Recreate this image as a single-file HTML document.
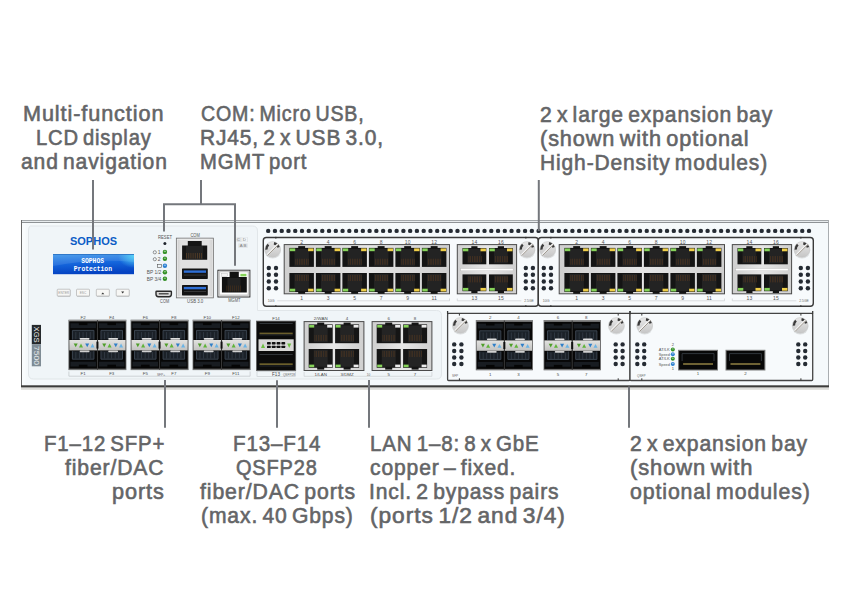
<!DOCTYPE html>
<html><head><meta charset="utf-8"><style>
html,body{margin:0;padding:0;background:#fff;}
#p{position:relative;width:850px;height:610px;overflow:hidden;background:#fff;}
svg{position:absolute;left:0;top:0;}
.t{position:absolute;font-family:"Liberation Sans",sans-serif;font-weight:normal;font-size:21.6px;line-height:24px;color:#646567;-webkit-text-stroke:0.6px #646567;letter-spacing:0.9px;word-spacing:-2.5px;white-space:nowrap;transform-origin:0 0;}
</style></head><body><div id="p">
<svg width="850" height="610" viewBox="0 0 850 610">
<defs>
<linearGradient id="silver" x1="0" y1="0" x2="1" y2="0">
<stop offset="0" stop-color="#cfcfcf"/><stop offset="0.5" stop-color="#e6e6e6"/><stop offset="1" stop-color="#cfcfcf"/>
</linearGradient>
<linearGradient id="silver2" x1="0" y1="0" x2="1" y2="0">
<stop offset="0" stop-color="#c9c9c9"/><stop offset="0.12" stop-color="#e2e2e2"/><stop offset="0.88" stop-color="#e2e2e2"/><stop offset="1" stop-color="#c9c9c9"/>
</linearGradient>
<linearGradient id="screwg" x1="0" y1="0" x2="0" y2="1">
<stop offset="0" stop-color="#e8e8e8"/><stop offset="1" stop-color="#c6c6c6"/>
</linearGradient>
<linearGradient id="band" x1="0" y1="0" x2="0" y2="1">
<stop offset="0" stop-color="#e2e2e0"/><stop offset="0.5" stop-color="#d2d2d0"/><stop offset="1" stop-color="#c2c2c0"/>
</linearGradient>
<radialGradient id="lcdglow">
<stop offset="0" stop-color="#5ad8f8" stop-opacity="0.9"/><stop offset="1" stop-color="#5ad8f8" stop-opacity="0"/>
</radialGradient>
<linearGradient id="lcd" x1="0" y1="0" x2="0.15" y2="1">
<stop offset="0" stop-color="#3a94ea"/><stop offset="0.5" stop-color="#1566dc"/><stop offset="1" stop-color="#0442c2"/>
</linearGradient>
</defs>
<rect x="21" y="220" width="808" height="166" fill="#f5f9fb"/>
<rect x="21" y="220" width="808" height="1" fill="#a3a7aa"/>
<rect x="21" y="221" width="808" height="1" fill="#e8ecee"/>
<rect x="21" y="222" width="808" height="1" fill="#8e9295"/>
<rect x="21" y="220" width="1" height="166" fill="#6a6a6a"/>
<rect x="828" y="220" width="1" height="166" fill="#a9adb0"/>
<rect x="21" y="385.3" width="808" height="2" fill="#3c3c3a"/>
<rect x="21" y="387.3" width="808" height="1" fill="#9a9a96"/>
<rect x="21" y="388.3" width="808" height="1.5" fill="#dcdcd8"/>
<path d="M30.5 226 H252.5 Q257.5 226 257.5 231 V310.5 H436.5 Q441.5 310.5 441.5 315.5 V374 Q441.5 379 436.5 379 H33.5 Q28.5 379 28.5 374 V231 Q28.5 226 30.5 226 Z" fill="#f0f5f8" stroke="#e1e6e9" stroke-width="1"/>
<rect x="22" y="223" width="3.5" height="162" fill="#f9fcfd"/>
<circle cx="268.20" cy="230.9" r="2.2" fill="#252b33"/>
<circle cx="274.96" cy="230.9" r="2.2" fill="#252b33"/>
<circle cx="281.72" cy="230.9" r="2.2" fill="#252b33"/>
<circle cx="288.48" cy="230.9" r="2.2" fill="#252b33"/>
<circle cx="295.24" cy="230.9" r="2.2" fill="#252b33"/>
<circle cx="302.00" cy="230.9" r="2.2" fill="#252b33"/>
<circle cx="308.76" cy="230.9" r="2.2" fill="#252b33"/>
<circle cx="315.52" cy="230.9" r="2.2" fill="#252b33"/>
<circle cx="322.28" cy="230.9" r="2.2" fill="#252b33"/>
<circle cx="329.04" cy="230.9" r="2.2" fill="#252b33"/>
<circle cx="335.80" cy="230.9" r="2.2" fill="#252b33"/>
<circle cx="342.56" cy="230.9" r="2.2" fill="#252b33"/>
<circle cx="349.32" cy="230.9" r="2.2" fill="#252b33"/>
<circle cx="356.08" cy="230.9" r="2.2" fill="#252b33"/>
<circle cx="362.84" cy="230.9" r="2.2" fill="#252b33"/>
<circle cx="369.60" cy="230.9" r="2.2" fill="#252b33"/>
<circle cx="376.36" cy="230.9" r="2.2" fill="#252b33"/>
<circle cx="383.12" cy="230.9" r="2.2" fill="#252b33"/>
<circle cx="389.88" cy="230.9" r="2.2" fill="#252b33"/>
<circle cx="396.64" cy="230.9" r="2.2" fill="#252b33"/>
<circle cx="403.40" cy="230.9" r="2.2" fill="#252b33"/>
<circle cx="410.16" cy="230.9" r="2.2" fill="#252b33"/>
<circle cx="416.92" cy="230.9" r="2.2" fill="#252b33"/>
<circle cx="423.68" cy="230.9" r="2.2" fill="#252b33"/>
<circle cx="430.44" cy="230.9" r="2.2" fill="#252b33"/>
<circle cx="437.20" cy="230.9" r="2.2" fill="#252b33"/>
<circle cx="443.96" cy="230.9" r="2.2" fill="#252b33"/>
<circle cx="450.72" cy="230.9" r="2.2" fill="#252b33"/>
<circle cx="457.48" cy="230.9" r="2.2" fill="#252b33"/>
<circle cx="464.24" cy="230.9" r="2.2" fill="#252b33"/>
<circle cx="471.00" cy="230.9" r="2.2" fill="#252b33"/>
<circle cx="477.76" cy="230.9" r="2.2" fill="#252b33"/>
<circle cx="484.52" cy="230.9" r="2.2" fill="#252b33"/>
<circle cx="491.28" cy="230.9" r="2.2" fill="#252b33"/>
<circle cx="498.04" cy="230.9" r="2.2" fill="#252b33"/>
<circle cx="504.80" cy="230.9" r="2.2" fill="#252b33"/>
<circle cx="511.56" cy="230.9" r="2.2" fill="#252b33"/>
<circle cx="518.32" cy="230.9" r="2.2" fill="#252b33"/>
<circle cx="525.08" cy="230.9" r="2.2" fill="#252b33"/>
<circle cx="531.84" cy="230.9" r="2.2" fill="#252b33"/>
<circle cx="538.60" cy="230.9" r="2.2" fill="#252b33"/>
<circle cx="545.36" cy="230.9" r="2.2" fill="#252b33"/>
<circle cx="552.12" cy="230.9" r="2.2" fill="#252b33"/>
<circle cx="558.88" cy="230.9" r="2.2" fill="#252b33"/>
<circle cx="565.64" cy="230.9" r="2.2" fill="#252b33"/>
<circle cx="572.40" cy="230.9" r="2.2" fill="#252b33"/>
<circle cx="579.16" cy="230.9" r="2.2" fill="#252b33"/>
<circle cx="585.92" cy="230.9" r="2.2" fill="#252b33"/>
<circle cx="592.68" cy="230.9" r="2.2" fill="#252b33"/>
<circle cx="599.44" cy="230.9" r="2.2" fill="#252b33"/>
<circle cx="606.20" cy="230.9" r="2.2" fill="#252b33"/>
<circle cx="612.96" cy="230.9" r="2.2" fill="#252b33"/>
<circle cx="619.72" cy="230.9" r="2.2" fill="#252b33"/>
<circle cx="626.48" cy="230.9" r="2.2" fill="#252b33"/>
<circle cx="633.24" cy="230.9" r="2.2" fill="#252b33"/>
<circle cx="640.00" cy="230.9" r="2.2" fill="#252b33"/>
<circle cx="646.76" cy="230.9" r="2.2" fill="#252b33"/>
<circle cx="653.52" cy="230.9" r="2.2" fill="#252b33"/>
<circle cx="660.28" cy="230.9" r="2.2" fill="#252b33"/>
<circle cx="667.04" cy="230.9" r="2.2" fill="#252b33"/>
<circle cx="673.80" cy="230.9" r="2.2" fill="#252b33"/>
<circle cx="680.56" cy="230.9" r="2.2" fill="#252b33"/>
<circle cx="687.32" cy="230.9" r="2.2" fill="#252b33"/>
<circle cx="694.08" cy="230.9" r="2.2" fill="#252b33"/>
<circle cx="700.84" cy="230.9" r="2.2" fill="#252b33"/>
<circle cx="707.60" cy="230.9" r="2.2" fill="#252b33"/>
<circle cx="714.36" cy="230.9" r="2.2" fill="#252b33"/>
<circle cx="721.12" cy="230.9" r="2.2" fill="#252b33"/>
<circle cx="727.88" cy="230.9" r="2.2" fill="#252b33"/>
<circle cx="734.64" cy="230.9" r="2.2" fill="#252b33"/>
<circle cx="741.40" cy="230.9" r="2.2" fill="#252b33"/>
<circle cx="748.16" cy="230.9" r="2.2" fill="#252b33"/>
<circle cx="754.92" cy="230.9" r="2.2" fill="#252b33"/>
<circle cx="761.68" cy="230.9" r="2.2" fill="#252b33"/>
<circle cx="768.44" cy="230.9" r="2.2" fill="#252b33"/>
<circle cx="775.20" cy="230.9" r="2.2" fill="#252b33"/>
<circle cx="781.96" cy="230.9" r="2.2" fill="#252b33"/>
<circle cx="788.72" cy="230.9" r="2.2" fill="#252b33"/>
<circle cx="795.48" cy="230.9" r="2.2" fill="#252b33"/>
<circle cx="802.24" cy="230.9" r="2.2" fill="#252b33"/>
<circle cx="809.00" cy="230.9" r="2.2" fill="#252b33"/>
<rect x="263.3" y="237.5" width="275.0" height="68.7" rx="3" fill="#f7fafc" stroke="#3a3a3a" stroke-width="1.4"/>
<circle cx="272.65000000000003" cy="250.3" r="8.3" fill="#d2d4d6" opacity="0.7"/>
<circle cx="272.65000000000003" cy="249.4" r="7.8" fill="url(#screwg)" stroke="#c4c4c4" stroke-width="0.5"/>
<path d="M268.43 244.72 A6.3 6.3 0 0 0 266.35 249.62" fill="none" stroke="#3a3a3a" stroke-width="2.4"/>
<path d="M278.64 247.45 A6.3 6.3 0 0 0 273.96 243.24" fill="none" stroke="#3a3a3a" stroke-width="2.4"/>
<line x1="267.25000000000006" y1="254.8" x2="278.05" y2="244.0" stroke="#f4f4f4" stroke-width="1.8"/>
<line x1="267.45000000000005" y1="255.5" x2="278.55" y2="244.4" stroke="#867e72" stroke-width="0.8"/>
<circle cx="268.8" cy="268" r="2.2" fill="#252b33"/>
<circle cx="276.0" cy="268" r="2.2" fill="#252b33"/>
<circle cx="268.8" cy="274.8" r="2.2" fill="#252b33"/>
<circle cx="276.0" cy="274.8" r="2.2" fill="#252b33"/>
<circle cx="268.8" cy="281.5" r="2.2" fill="#252b33"/>
<circle cx="276.0" cy="281.5" r="2.2" fill="#252b33"/>
<circle cx="268.8" cy="288.3" r="2.2" fill="#252b33"/>
<circle cx="276.0" cy="288.3" r="2.2" fill="#252b33"/>
<circle cx="527.0" cy="250.3" r="8.3" fill="#d2d4d6" opacity="0.7"/>
<circle cx="527.0" cy="249.4" r="7.8" fill="url(#screwg)" stroke="#c4c4c4" stroke-width="0.5"/>
<path d="M522.78 244.72 A6.3 6.3 0 0 0 520.70 249.62" fill="none" stroke="#3a3a3a" stroke-width="2.4"/>
<path d="M532.99 247.45 A6.3 6.3 0 0 0 528.31 243.24" fill="none" stroke="#3a3a3a" stroke-width="2.4"/>
<line x1="521.6" y1="254.8" x2="532.4" y2="244.0" stroke="#f4f4f4" stroke-width="1.8"/>
<line x1="521.8" y1="255.5" x2="532.9" y2="244.4" stroke="#867e72" stroke-width="0.8"/>
<circle cx="525.8" cy="268" r="2.2" fill="#252b33"/>
<circle cx="532.9" cy="268" r="2.2" fill="#252b33"/>
<circle cx="525.8" cy="274.8" r="2.2" fill="#252b33"/>
<circle cx="532.9" cy="274.8" r="2.2" fill="#252b33"/>
<circle cx="525.8" cy="281.5" r="2.2" fill="#252b33"/>
<circle cx="532.9" cy="281.5" r="2.2" fill="#252b33"/>
<circle cx="525.8" cy="288.3" r="2.2" fill="#252b33"/>
<circle cx="532.9" cy="288.3" r="2.2" fill="#252b33"/>
<rect x="284.2" y="244.6" width="165.3" height="49.2" fill="url(#silver)" stroke="#4a4a4a" stroke-width="1"/>
<rect x="289.4" y="247.9" width="24.5" height="19" fill="#141414"/>
<rect x="298.2" y="246.1" width="6.899999999999999" height="3" fill="#141414"/>
<rect x="294.4" y="248.9" width="14.5" height="17" fill="#232323"/>
<rect x="295.60" y="258.70" width="0.55" height="6" fill="#6a4220" opacity="0.75"/>
<rect x="297.35" y="258.70" width="0.55" height="6" fill="#6a4220" opacity="0.75"/>
<rect x="299.10" y="258.70" width="0.55" height="6" fill="#6a4220" opacity="0.75"/>
<rect x="300.85" y="258.70" width="0.55" height="6" fill="#6a4220" opacity="0.75"/>
<rect x="302.60" y="258.70" width="0.55" height="6" fill="#6a4220" opacity="0.75"/>
<rect x="304.35" y="258.70" width="0.55" height="6" fill="#6a4220" opacity="0.75"/>
<rect x="306.10" y="258.70" width="0.55" height="6" fill="#6a4220" opacity="0.75"/>
<rect x="307.85" y="258.70" width="0.55" height="6" fill="#6a4220" opacity="0.75"/>
<rect x="289.79999999999995" y="248.4" width="5.4" height="2.8" fill="#86d35a"/>
<rect x="308.09999999999997" y="248.4" width="5.4" height="2.8" fill="#efcf4a"/>
<rect x="289.4" y="273" width="24.5" height="19" fill="#141414"/>
<rect x="298.2" y="290.8" width="6.899999999999999" height="3" fill="#141414"/>
<rect x="294.4" y="274" width="14.5" height="17" fill="#232323"/>
<rect x="295.60" y="275" width="0.55" height="6" fill="#6a4220" opacity="0.75"/>
<rect x="297.35" y="275" width="0.55" height="6" fill="#6a4220" opacity="0.75"/>
<rect x="299.10" y="275" width="0.55" height="6" fill="#6a4220" opacity="0.75"/>
<rect x="300.85" y="275" width="0.55" height="6" fill="#6a4220" opacity="0.75"/>
<rect x="302.60" y="275" width="0.55" height="6" fill="#6a4220" opacity="0.75"/>
<rect x="304.35" y="275" width="0.55" height="6" fill="#6a4220" opacity="0.75"/>
<rect x="306.10" y="275" width="0.55" height="6" fill="#6a4220" opacity="0.75"/>
<rect x="307.85" y="275" width="0.55" height="6" fill="#6a4220" opacity="0.75"/>
<rect x="289.79999999999995" y="288.7" width="5.4" height="2.8" fill="#86d35a"/>
<rect x="308.09999999999997" y="288.7" width="5.4" height="2.8" fill="#efcf4a"/>
<rect x="315.9" y="247.9" width="24.5" height="19" fill="#141414"/>
<rect x="324.7" y="246.1" width="6.899999999999999" height="3" fill="#141414"/>
<rect x="320.9" y="248.9" width="14.5" height="17" fill="#232323"/>
<rect x="322.10" y="258.70" width="0.55" height="6" fill="#6a4220" opacity="0.75"/>
<rect x="323.85" y="258.70" width="0.55" height="6" fill="#6a4220" opacity="0.75"/>
<rect x="325.60" y="258.70" width="0.55" height="6" fill="#6a4220" opacity="0.75"/>
<rect x="327.35" y="258.70" width="0.55" height="6" fill="#6a4220" opacity="0.75"/>
<rect x="329.10" y="258.70" width="0.55" height="6" fill="#6a4220" opacity="0.75"/>
<rect x="330.85" y="258.70" width="0.55" height="6" fill="#6a4220" opacity="0.75"/>
<rect x="332.60" y="258.70" width="0.55" height="6" fill="#6a4220" opacity="0.75"/>
<rect x="334.35" y="258.70" width="0.55" height="6" fill="#6a4220" opacity="0.75"/>
<rect x="316.29999999999995" y="248.4" width="5.4" height="2.8" fill="#86d35a"/>
<rect x="334.59999999999997" y="248.4" width="5.4" height="2.8" fill="#efcf4a"/>
<rect x="315.9" y="273" width="24.5" height="19" fill="#141414"/>
<rect x="324.7" y="290.8" width="6.899999999999999" height="3" fill="#141414"/>
<rect x="320.9" y="274" width="14.5" height="17" fill="#232323"/>
<rect x="322.10" y="275" width="0.55" height="6" fill="#6a4220" opacity="0.75"/>
<rect x="323.85" y="275" width="0.55" height="6" fill="#6a4220" opacity="0.75"/>
<rect x="325.60" y="275" width="0.55" height="6" fill="#6a4220" opacity="0.75"/>
<rect x="327.35" y="275" width="0.55" height="6" fill="#6a4220" opacity="0.75"/>
<rect x="329.10" y="275" width="0.55" height="6" fill="#6a4220" opacity="0.75"/>
<rect x="330.85" y="275" width="0.55" height="6" fill="#6a4220" opacity="0.75"/>
<rect x="332.60" y="275" width="0.55" height="6" fill="#6a4220" opacity="0.75"/>
<rect x="334.35" y="275" width="0.55" height="6" fill="#6a4220" opacity="0.75"/>
<rect x="316.29999999999995" y="288.7" width="5.4" height="2.8" fill="#86d35a"/>
<rect x="334.59999999999997" y="288.7" width="5.4" height="2.8" fill="#efcf4a"/>
<rect x="342.4" y="247.9" width="24.5" height="19" fill="#141414"/>
<rect x="351.2" y="246.1" width="6.899999999999999" height="3" fill="#141414"/>
<rect x="347.4" y="248.9" width="14.5" height="17" fill="#232323"/>
<rect x="348.60" y="258.70" width="0.55" height="6" fill="#6a4220" opacity="0.75"/>
<rect x="350.35" y="258.70" width="0.55" height="6" fill="#6a4220" opacity="0.75"/>
<rect x="352.10" y="258.70" width="0.55" height="6" fill="#6a4220" opacity="0.75"/>
<rect x="353.85" y="258.70" width="0.55" height="6" fill="#6a4220" opacity="0.75"/>
<rect x="355.60" y="258.70" width="0.55" height="6" fill="#6a4220" opacity="0.75"/>
<rect x="357.35" y="258.70" width="0.55" height="6" fill="#6a4220" opacity="0.75"/>
<rect x="359.10" y="258.70" width="0.55" height="6" fill="#6a4220" opacity="0.75"/>
<rect x="360.85" y="258.70" width="0.55" height="6" fill="#6a4220" opacity="0.75"/>
<rect x="342.79999999999995" y="248.4" width="5.4" height="2.8" fill="#86d35a"/>
<rect x="361.09999999999997" y="248.4" width="5.4" height="2.8" fill="#efcf4a"/>
<rect x="342.4" y="273" width="24.5" height="19" fill="#141414"/>
<rect x="351.2" y="290.8" width="6.899999999999999" height="3" fill="#141414"/>
<rect x="347.4" y="274" width="14.5" height="17" fill="#232323"/>
<rect x="348.60" y="275" width="0.55" height="6" fill="#6a4220" opacity="0.75"/>
<rect x="350.35" y="275" width="0.55" height="6" fill="#6a4220" opacity="0.75"/>
<rect x="352.10" y="275" width="0.55" height="6" fill="#6a4220" opacity="0.75"/>
<rect x="353.85" y="275" width="0.55" height="6" fill="#6a4220" opacity="0.75"/>
<rect x="355.60" y="275" width="0.55" height="6" fill="#6a4220" opacity="0.75"/>
<rect x="357.35" y="275" width="0.55" height="6" fill="#6a4220" opacity="0.75"/>
<rect x="359.10" y="275" width="0.55" height="6" fill="#6a4220" opacity="0.75"/>
<rect x="360.85" y="275" width="0.55" height="6" fill="#6a4220" opacity="0.75"/>
<rect x="342.79999999999995" y="288.7" width="5.4" height="2.8" fill="#86d35a"/>
<rect x="361.09999999999997" y="288.7" width="5.4" height="2.8" fill="#efcf4a"/>
<rect x="368.9" y="247.9" width="24.5" height="19" fill="#141414"/>
<rect x="377.7" y="246.1" width="6.899999999999999" height="3" fill="#141414"/>
<rect x="373.9" y="248.9" width="14.5" height="17" fill="#232323"/>
<rect x="375.10" y="258.70" width="0.55" height="6" fill="#6a4220" opacity="0.75"/>
<rect x="376.85" y="258.70" width="0.55" height="6" fill="#6a4220" opacity="0.75"/>
<rect x="378.60" y="258.70" width="0.55" height="6" fill="#6a4220" opacity="0.75"/>
<rect x="380.35" y="258.70" width="0.55" height="6" fill="#6a4220" opacity="0.75"/>
<rect x="382.10" y="258.70" width="0.55" height="6" fill="#6a4220" opacity="0.75"/>
<rect x="383.85" y="258.70" width="0.55" height="6" fill="#6a4220" opacity="0.75"/>
<rect x="385.60" y="258.70" width="0.55" height="6" fill="#6a4220" opacity="0.75"/>
<rect x="387.35" y="258.70" width="0.55" height="6" fill="#6a4220" opacity="0.75"/>
<rect x="369.29999999999995" y="248.4" width="5.4" height="2.8" fill="#86d35a"/>
<rect x="387.59999999999997" y="248.4" width="5.4" height="2.8" fill="#efcf4a"/>
<rect x="368.9" y="273" width="24.5" height="19" fill="#141414"/>
<rect x="377.7" y="290.8" width="6.899999999999999" height="3" fill="#141414"/>
<rect x="373.9" y="274" width="14.5" height="17" fill="#232323"/>
<rect x="375.10" y="275" width="0.55" height="6" fill="#6a4220" opacity="0.75"/>
<rect x="376.85" y="275" width="0.55" height="6" fill="#6a4220" opacity="0.75"/>
<rect x="378.60" y="275" width="0.55" height="6" fill="#6a4220" opacity="0.75"/>
<rect x="380.35" y="275" width="0.55" height="6" fill="#6a4220" opacity="0.75"/>
<rect x="382.10" y="275" width="0.55" height="6" fill="#6a4220" opacity="0.75"/>
<rect x="383.85" y="275" width="0.55" height="6" fill="#6a4220" opacity="0.75"/>
<rect x="385.60" y="275" width="0.55" height="6" fill="#6a4220" opacity="0.75"/>
<rect x="387.35" y="275" width="0.55" height="6" fill="#6a4220" opacity="0.75"/>
<rect x="369.29999999999995" y="288.7" width="5.4" height="2.8" fill="#86d35a"/>
<rect x="387.59999999999997" y="288.7" width="5.4" height="2.8" fill="#efcf4a"/>
<rect x="395.4" y="247.9" width="24.5" height="19" fill="#141414"/>
<rect x="404.2" y="246.1" width="6.899999999999999" height="3" fill="#141414"/>
<rect x="400.4" y="248.9" width="14.5" height="17" fill="#232323"/>
<rect x="401.60" y="258.70" width="0.55" height="6" fill="#6a4220" opacity="0.75"/>
<rect x="403.35" y="258.70" width="0.55" height="6" fill="#6a4220" opacity="0.75"/>
<rect x="405.10" y="258.70" width="0.55" height="6" fill="#6a4220" opacity="0.75"/>
<rect x="406.85" y="258.70" width="0.55" height="6" fill="#6a4220" opacity="0.75"/>
<rect x="408.60" y="258.70" width="0.55" height="6" fill="#6a4220" opacity="0.75"/>
<rect x="410.35" y="258.70" width="0.55" height="6" fill="#6a4220" opacity="0.75"/>
<rect x="412.10" y="258.70" width="0.55" height="6" fill="#6a4220" opacity="0.75"/>
<rect x="413.85" y="258.70" width="0.55" height="6" fill="#6a4220" opacity="0.75"/>
<rect x="395.79999999999995" y="248.4" width="5.4" height="2.8" fill="#86d35a"/>
<rect x="414.09999999999997" y="248.4" width="5.4" height="2.8" fill="#efcf4a"/>
<rect x="395.4" y="273" width="24.5" height="19" fill="#141414"/>
<rect x="404.2" y="290.8" width="6.899999999999999" height="3" fill="#141414"/>
<rect x="400.4" y="274" width="14.5" height="17" fill="#232323"/>
<rect x="401.60" y="275" width="0.55" height="6" fill="#6a4220" opacity="0.75"/>
<rect x="403.35" y="275" width="0.55" height="6" fill="#6a4220" opacity="0.75"/>
<rect x="405.10" y="275" width="0.55" height="6" fill="#6a4220" opacity="0.75"/>
<rect x="406.85" y="275" width="0.55" height="6" fill="#6a4220" opacity="0.75"/>
<rect x="408.60" y="275" width="0.55" height="6" fill="#6a4220" opacity="0.75"/>
<rect x="410.35" y="275" width="0.55" height="6" fill="#6a4220" opacity="0.75"/>
<rect x="412.10" y="275" width="0.55" height="6" fill="#6a4220" opacity="0.75"/>
<rect x="413.85" y="275" width="0.55" height="6" fill="#6a4220" opacity="0.75"/>
<rect x="395.79999999999995" y="288.7" width="5.4" height="2.8" fill="#86d35a"/>
<rect x="414.09999999999997" y="288.7" width="5.4" height="2.8" fill="#efcf4a"/>
<rect x="421.9" y="247.9" width="24.5" height="19" fill="#141414"/>
<rect x="430.7" y="246.1" width="6.899999999999999" height="3" fill="#141414"/>
<rect x="426.9" y="248.9" width="14.5" height="17" fill="#232323"/>
<rect x="428.10" y="258.70" width="0.55" height="6" fill="#6a4220" opacity="0.75"/>
<rect x="429.85" y="258.70" width="0.55" height="6" fill="#6a4220" opacity="0.75"/>
<rect x="431.60" y="258.70" width="0.55" height="6" fill="#6a4220" opacity="0.75"/>
<rect x="433.35" y="258.70" width="0.55" height="6" fill="#6a4220" opacity="0.75"/>
<rect x="435.10" y="258.70" width="0.55" height="6" fill="#6a4220" opacity="0.75"/>
<rect x="436.85" y="258.70" width="0.55" height="6" fill="#6a4220" opacity="0.75"/>
<rect x="438.60" y="258.70" width="0.55" height="6" fill="#6a4220" opacity="0.75"/>
<rect x="440.35" y="258.70" width="0.55" height="6" fill="#6a4220" opacity="0.75"/>
<rect x="422.29999999999995" y="248.4" width="5.4" height="2.8" fill="#86d35a"/>
<rect x="440.59999999999997" y="248.4" width="5.4" height="2.8" fill="#efcf4a"/>
<rect x="421.9" y="273" width="24.5" height="19" fill="#141414"/>
<rect x="430.7" y="290.8" width="6.899999999999999" height="3" fill="#141414"/>
<rect x="426.9" y="274" width="14.5" height="17" fill="#232323"/>
<rect x="428.10" y="275" width="0.55" height="6" fill="#6a4220" opacity="0.75"/>
<rect x="429.85" y="275" width="0.55" height="6" fill="#6a4220" opacity="0.75"/>
<rect x="431.60" y="275" width="0.55" height="6" fill="#6a4220" opacity="0.75"/>
<rect x="433.35" y="275" width="0.55" height="6" fill="#6a4220" opacity="0.75"/>
<rect x="435.10" y="275" width="0.55" height="6" fill="#6a4220" opacity="0.75"/>
<rect x="436.85" y="275" width="0.55" height="6" fill="#6a4220" opacity="0.75"/>
<rect x="438.60" y="275" width="0.55" height="6" fill="#6a4220" opacity="0.75"/>
<rect x="440.35" y="275" width="0.55" height="6" fill="#6a4220" opacity="0.75"/>
<rect x="422.29999999999995" y="288.7" width="5.4" height="2.8" fill="#86d35a"/>
<rect x="440.59999999999997" y="288.7" width="5.4" height="2.8" fill="#efcf4a"/>
<rect x="457.3" y="244.6" width="59.3" height="49.2" fill="url(#silver)" stroke="#4a4a4a" stroke-width="1"/>
<rect x="460.8" y="268.6" width="52.3" height="2.2" fill="#ffffff" stroke="#bdbdbd" stroke-width="0.4"/>
<rect x="462.5" y="248" width="23.8" height="16.3" fill="#141414"/>
<rect x="471.3" y="246.2" width="6.199999999999999" height="3" fill="#141414"/>
<rect x="467.5" y="249" width="13.8" height="14.3" fill="#232323"/>
<rect x="468.70" y="256.10" width="0.55" height="6" fill="#6a4220" opacity="0.75"/>
<rect x="470.45" y="256.10" width="0.55" height="6" fill="#6a4220" opacity="0.75"/>
<rect x="472.20" y="256.10" width="0.55" height="6" fill="#6a4220" opacity="0.75"/>
<rect x="473.95" y="256.10" width="0.55" height="6" fill="#6a4220" opacity="0.75"/>
<rect x="475.70" y="256.10" width="0.55" height="6" fill="#6a4220" opacity="0.75"/>
<rect x="477.45" y="256.10" width="0.55" height="6" fill="#6a4220" opacity="0.75"/>
<rect x="479.20" y="256.10" width="0.55" height="6" fill="#6a4220" opacity="0.75"/>
<rect x="480.95" y="256.10" width="0.55" height="6" fill="#6a4220" opacity="0.75"/>
<rect x="462.9" y="248.5" width="5.4" height="2.8" fill="#86d35a"/>
<rect x="480.5" y="248.5" width="5.4" height="2.8" fill="#efcf4a"/>
<rect x="462.5" y="274.4" width="23.8" height="16.8" fill="#141414"/>
<rect x="471.3" y="290.0" width="6.199999999999999" height="3" fill="#141414"/>
<rect x="467.5" y="275.4" width="13.8" height="14.8" fill="#232323"/>
<rect x="468.70" y="276.4" width="0.55" height="6" fill="#6a4220" opacity="0.75"/>
<rect x="470.45" y="276.4" width="0.55" height="6" fill="#6a4220" opacity="0.75"/>
<rect x="472.20" y="276.4" width="0.55" height="6" fill="#6a4220" opacity="0.75"/>
<rect x="473.95" y="276.4" width="0.55" height="6" fill="#6a4220" opacity="0.75"/>
<rect x="475.70" y="276.4" width="0.55" height="6" fill="#6a4220" opacity="0.75"/>
<rect x="477.45" y="276.4" width="0.55" height="6" fill="#6a4220" opacity="0.75"/>
<rect x="479.20" y="276.4" width="0.55" height="6" fill="#6a4220" opacity="0.75"/>
<rect x="480.95" y="276.4" width="0.55" height="6" fill="#6a4220" opacity="0.75"/>
<rect x="462.9" y="287.9" width="5.4" height="2.8" fill="#86d35a"/>
<rect x="480.5" y="287.9" width="5.4" height="2.8" fill="#efcf4a"/>
<rect x="489.0" y="248" width="23.8" height="16.3" fill="#141414"/>
<rect x="497.8" y="246.2" width="6.199999999999999" height="3" fill="#141414"/>
<rect x="494.0" y="249" width="13.8" height="14.3" fill="#232323"/>
<rect x="495.20" y="256.10" width="0.55" height="6" fill="#6a4220" opacity="0.75"/>
<rect x="496.95" y="256.10" width="0.55" height="6" fill="#6a4220" opacity="0.75"/>
<rect x="498.70" y="256.10" width="0.55" height="6" fill="#6a4220" opacity="0.75"/>
<rect x="500.45" y="256.10" width="0.55" height="6" fill="#6a4220" opacity="0.75"/>
<rect x="502.20" y="256.10" width="0.55" height="6" fill="#6a4220" opacity="0.75"/>
<rect x="503.95" y="256.10" width="0.55" height="6" fill="#6a4220" opacity="0.75"/>
<rect x="505.70" y="256.10" width="0.55" height="6" fill="#6a4220" opacity="0.75"/>
<rect x="507.45" y="256.10" width="0.55" height="6" fill="#6a4220" opacity="0.75"/>
<rect x="489.4" y="248.5" width="5.4" height="2.8" fill="#86d35a"/>
<rect x="506.99999999999994" y="248.5" width="5.4" height="2.8" fill="#efcf4a"/>
<rect x="489.0" y="274.4" width="23.8" height="16.8" fill="#141414"/>
<rect x="497.8" y="290.0" width="6.199999999999999" height="3" fill="#141414"/>
<rect x="494.0" y="275.4" width="13.8" height="14.8" fill="#232323"/>
<rect x="495.20" y="276.4" width="0.55" height="6" fill="#6a4220" opacity="0.75"/>
<rect x="496.95" y="276.4" width="0.55" height="6" fill="#6a4220" opacity="0.75"/>
<rect x="498.70" y="276.4" width="0.55" height="6" fill="#6a4220" opacity="0.75"/>
<rect x="500.45" y="276.4" width="0.55" height="6" fill="#6a4220" opacity="0.75"/>
<rect x="502.20" y="276.4" width="0.55" height="6" fill="#6a4220" opacity="0.75"/>
<rect x="503.95" y="276.4" width="0.55" height="6" fill="#6a4220" opacity="0.75"/>
<rect x="505.70" y="276.4" width="0.55" height="6" fill="#6a4220" opacity="0.75"/>
<rect x="507.45" y="276.4" width="0.55" height="6" fill="#6a4220" opacity="0.75"/>
<rect x="489.4" y="287.9" width="5.4" height="2.8" fill="#86d35a"/>
<rect x="506.99999999999994" y="287.9" width="5.4" height="2.8" fill="#efcf4a"/>
<rect x="538.3" y="237.5" width="275.0" height="68.7" rx="3" fill="#f7fafc" stroke="#3a3a3a" stroke-width="1.4"/>
<circle cx="547.65" cy="250.3" r="8.3" fill="#d2d4d6" opacity="0.7"/>
<circle cx="547.65" cy="249.4" r="7.8" fill="url(#screwg)" stroke="#c4c4c4" stroke-width="0.5"/>
<path d="M543.43 244.72 A6.3 6.3 0 0 0 541.35 249.62" fill="none" stroke="#3a3a3a" stroke-width="2.4"/>
<path d="M553.64 247.45 A6.3 6.3 0 0 0 548.96 243.24" fill="none" stroke="#3a3a3a" stroke-width="2.4"/>
<line x1="542.25" y1="254.8" x2="553.05" y2="244.0" stroke="#f4f4f4" stroke-width="1.8"/>
<line x1="542.4499999999999" y1="255.5" x2="553.55" y2="244.4" stroke="#867e72" stroke-width="0.8"/>
<circle cx="543.8" cy="268" r="2.2" fill="#252b33"/>
<circle cx="551.0" cy="268" r="2.2" fill="#252b33"/>
<circle cx="543.8" cy="274.8" r="2.2" fill="#252b33"/>
<circle cx="551.0" cy="274.8" r="2.2" fill="#252b33"/>
<circle cx="543.8" cy="281.5" r="2.2" fill="#252b33"/>
<circle cx="551.0" cy="281.5" r="2.2" fill="#252b33"/>
<circle cx="543.8" cy="288.3" r="2.2" fill="#252b33"/>
<circle cx="551.0" cy="288.3" r="2.2" fill="#252b33"/>
<circle cx="802.0" cy="250.3" r="8.3" fill="#d2d4d6" opacity="0.7"/>
<circle cx="802.0" cy="249.4" r="7.8" fill="url(#screwg)" stroke="#c4c4c4" stroke-width="0.5"/>
<path d="M797.78 244.72 A6.3 6.3 0 0 0 795.70 249.62" fill="none" stroke="#3a3a3a" stroke-width="2.4"/>
<path d="M807.99 247.45 A6.3 6.3 0 0 0 803.31 243.24" fill="none" stroke="#3a3a3a" stroke-width="2.4"/>
<line x1="796.6" y1="254.8" x2="807.4" y2="244.0" stroke="#f4f4f4" stroke-width="1.8"/>
<line x1="796.8" y1="255.5" x2="807.9" y2="244.4" stroke="#867e72" stroke-width="0.8"/>
<circle cx="800.8" cy="268" r="2.2" fill="#252b33"/>
<circle cx="807.9" cy="268" r="2.2" fill="#252b33"/>
<circle cx="800.8" cy="274.8" r="2.2" fill="#252b33"/>
<circle cx="807.9" cy="274.8" r="2.2" fill="#252b33"/>
<circle cx="800.8" cy="281.5" r="2.2" fill="#252b33"/>
<circle cx="807.9" cy="281.5" r="2.2" fill="#252b33"/>
<circle cx="800.8" cy="288.3" r="2.2" fill="#252b33"/>
<circle cx="807.9" cy="288.3" r="2.2" fill="#252b33"/>
<rect x="559.1999999999999" y="244.6" width="165.3" height="49.2" fill="url(#silver)" stroke="#4a4a4a" stroke-width="1"/>
<rect x="564.4" y="247.9" width="24.5" height="19" fill="#141414"/>
<rect x="573.1999999999999" y="246.1" width="6.899999999999999" height="3" fill="#141414"/>
<rect x="569.4" y="248.9" width="14.5" height="17" fill="#232323"/>
<rect x="570.60" y="258.70" width="0.55" height="6" fill="#6a4220" opacity="0.75"/>
<rect x="572.35" y="258.70" width="0.55" height="6" fill="#6a4220" opacity="0.75"/>
<rect x="574.10" y="258.70" width="0.55" height="6" fill="#6a4220" opacity="0.75"/>
<rect x="575.85" y="258.70" width="0.55" height="6" fill="#6a4220" opacity="0.75"/>
<rect x="577.60" y="258.70" width="0.55" height="6" fill="#6a4220" opacity="0.75"/>
<rect x="579.35" y="258.70" width="0.55" height="6" fill="#6a4220" opacity="0.75"/>
<rect x="581.10" y="258.70" width="0.55" height="6" fill="#6a4220" opacity="0.75"/>
<rect x="582.85" y="258.70" width="0.55" height="6" fill="#6a4220" opacity="0.75"/>
<rect x="564.8" y="248.4" width="5.4" height="2.8" fill="#86d35a"/>
<rect x="583.1" y="248.4" width="5.4" height="2.8" fill="#efcf4a"/>
<rect x="564.4" y="273" width="24.5" height="19" fill="#141414"/>
<rect x="573.1999999999999" y="290.8" width="6.899999999999999" height="3" fill="#141414"/>
<rect x="569.4" y="274" width="14.5" height="17" fill="#232323"/>
<rect x="570.60" y="275" width="0.55" height="6" fill="#6a4220" opacity="0.75"/>
<rect x="572.35" y="275" width="0.55" height="6" fill="#6a4220" opacity="0.75"/>
<rect x="574.10" y="275" width="0.55" height="6" fill="#6a4220" opacity="0.75"/>
<rect x="575.85" y="275" width="0.55" height="6" fill="#6a4220" opacity="0.75"/>
<rect x="577.60" y="275" width="0.55" height="6" fill="#6a4220" opacity="0.75"/>
<rect x="579.35" y="275" width="0.55" height="6" fill="#6a4220" opacity="0.75"/>
<rect x="581.10" y="275" width="0.55" height="6" fill="#6a4220" opacity="0.75"/>
<rect x="582.85" y="275" width="0.55" height="6" fill="#6a4220" opacity="0.75"/>
<rect x="564.8" y="288.7" width="5.4" height="2.8" fill="#86d35a"/>
<rect x="583.1" y="288.7" width="5.4" height="2.8" fill="#efcf4a"/>
<rect x="590.9" y="247.9" width="24.5" height="19" fill="#141414"/>
<rect x="599.6999999999999" y="246.1" width="6.899999999999999" height="3" fill="#141414"/>
<rect x="595.9" y="248.9" width="14.5" height="17" fill="#232323"/>
<rect x="597.10" y="258.70" width="0.55" height="6" fill="#6a4220" opacity="0.75"/>
<rect x="598.85" y="258.70" width="0.55" height="6" fill="#6a4220" opacity="0.75"/>
<rect x="600.60" y="258.70" width="0.55" height="6" fill="#6a4220" opacity="0.75"/>
<rect x="602.35" y="258.70" width="0.55" height="6" fill="#6a4220" opacity="0.75"/>
<rect x="604.10" y="258.70" width="0.55" height="6" fill="#6a4220" opacity="0.75"/>
<rect x="605.85" y="258.70" width="0.55" height="6" fill="#6a4220" opacity="0.75"/>
<rect x="607.60" y="258.70" width="0.55" height="6" fill="#6a4220" opacity="0.75"/>
<rect x="609.35" y="258.70" width="0.55" height="6" fill="#6a4220" opacity="0.75"/>
<rect x="591.3" y="248.4" width="5.4" height="2.8" fill="#86d35a"/>
<rect x="609.6" y="248.4" width="5.4" height="2.8" fill="#efcf4a"/>
<rect x="590.9" y="273" width="24.5" height="19" fill="#141414"/>
<rect x="599.6999999999999" y="290.8" width="6.899999999999999" height="3" fill="#141414"/>
<rect x="595.9" y="274" width="14.5" height="17" fill="#232323"/>
<rect x="597.10" y="275" width="0.55" height="6" fill="#6a4220" opacity="0.75"/>
<rect x="598.85" y="275" width="0.55" height="6" fill="#6a4220" opacity="0.75"/>
<rect x="600.60" y="275" width="0.55" height="6" fill="#6a4220" opacity="0.75"/>
<rect x="602.35" y="275" width="0.55" height="6" fill="#6a4220" opacity="0.75"/>
<rect x="604.10" y="275" width="0.55" height="6" fill="#6a4220" opacity="0.75"/>
<rect x="605.85" y="275" width="0.55" height="6" fill="#6a4220" opacity="0.75"/>
<rect x="607.60" y="275" width="0.55" height="6" fill="#6a4220" opacity="0.75"/>
<rect x="609.35" y="275" width="0.55" height="6" fill="#6a4220" opacity="0.75"/>
<rect x="591.3" y="288.7" width="5.4" height="2.8" fill="#86d35a"/>
<rect x="609.6" y="288.7" width="5.4" height="2.8" fill="#efcf4a"/>
<rect x="617.4" y="247.9" width="24.5" height="19" fill="#141414"/>
<rect x="626.1999999999999" y="246.1" width="6.899999999999999" height="3" fill="#141414"/>
<rect x="622.4" y="248.9" width="14.5" height="17" fill="#232323"/>
<rect x="623.60" y="258.70" width="0.55" height="6" fill="#6a4220" opacity="0.75"/>
<rect x="625.35" y="258.70" width="0.55" height="6" fill="#6a4220" opacity="0.75"/>
<rect x="627.10" y="258.70" width="0.55" height="6" fill="#6a4220" opacity="0.75"/>
<rect x="628.85" y="258.70" width="0.55" height="6" fill="#6a4220" opacity="0.75"/>
<rect x="630.60" y="258.70" width="0.55" height="6" fill="#6a4220" opacity="0.75"/>
<rect x="632.35" y="258.70" width="0.55" height="6" fill="#6a4220" opacity="0.75"/>
<rect x="634.10" y="258.70" width="0.55" height="6" fill="#6a4220" opacity="0.75"/>
<rect x="635.85" y="258.70" width="0.55" height="6" fill="#6a4220" opacity="0.75"/>
<rect x="617.8" y="248.4" width="5.4" height="2.8" fill="#86d35a"/>
<rect x="636.1" y="248.4" width="5.4" height="2.8" fill="#efcf4a"/>
<rect x="617.4" y="273" width="24.5" height="19" fill="#141414"/>
<rect x="626.1999999999999" y="290.8" width="6.899999999999999" height="3" fill="#141414"/>
<rect x="622.4" y="274" width="14.5" height="17" fill="#232323"/>
<rect x="623.60" y="275" width="0.55" height="6" fill="#6a4220" opacity="0.75"/>
<rect x="625.35" y="275" width="0.55" height="6" fill="#6a4220" opacity="0.75"/>
<rect x="627.10" y="275" width="0.55" height="6" fill="#6a4220" opacity="0.75"/>
<rect x="628.85" y="275" width="0.55" height="6" fill="#6a4220" opacity="0.75"/>
<rect x="630.60" y="275" width="0.55" height="6" fill="#6a4220" opacity="0.75"/>
<rect x="632.35" y="275" width="0.55" height="6" fill="#6a4220" opacity="0.75"/>
<rect x="634.10" y="275" width="0.55" height="6" fill="#6a4220" opacity="0.75"/>
<rect x="635.85" y="275" width="0.55" height="6" fill="#6a4220" opacity="0.75"/>
<rect x="617.8" y="288.7" width="5.4" height="2.8" fill="#86d35a"/>
<rect x="636.1" y="288.7" width="5.4" height="2.8" fill="#efcf4a"/>
<rect x="643.9" y="247.9" width="24.5" height="19" fill="#141414"/>
<rect x="652.6999999999999" y="246.1" width="6.899999999999999" height="3" fill="#141414"/>
<rect x="648.9" y="248.9" width="14.5" height="17" fill="#232323"/>
<rect x="650.10" y="258.70" width="0.55" height="6" fill="#6a4220" opacity="0.75"/>
<rect x="651.85" y="258.70" width="0.55" height="6" fill="#6a4220" opacity="0.75"/>
<rect x="653.60" y="258.70" width="0.55" height="6" fill="#6a4220" opacity="0.75"/>
<rect x="655.35" y="258.70" width="0.55" height="6" fill="#6a4220" opacity="0.75"/>
<rect x="657.10" y="258.70" width="0.55" height="6" fill="#6a4220" opacity="0.75"/>
<rect x="658.85" y="258.70" width="0.55" height="6" fill="#6a4220" opacity="0.75"/>
<rect x="660.60" y="258.70" width="0.55" height="6" fill="#6a4220" opacity="0.75"/>
<rect x="662.35" y="258.70" width="0.55" height="6" fill="#6a4220" opacity="0.75"/>
<rect x="644.3" y="248.4" width="5.4" height="2.8" fill="#86d35a"/>
<rect x="662.6" y="248.4" width="5.4" height="2.8" fill="#efcf4a"/>
<rect x="643.9" y="273" width="24.5" height="19" fill="#141414"/>
<rect x="652.6999999999999" y="290.8" width="6.899999999999999" height="3" fill="#141414"/>
<rect x="648.9" y="274" width="14.5" height="17" fill="#232323"/>
<rect x="650.10" y="275" width="0.55" height="6" fill="#6a4220" opacity="0.75"/>
<rect x="651.85" y="275" width="0.55" height="6" fill="#6a4220" opacity="0.75"/>
<rect x="653.60" y="275" width="0.55" height="6" fill="#6a4220" opacity="0.75"/>
<rect x="655.35" y="275" width="0.55" height="6" fill="#6a4220" opacity="0.75"/>
<rect x="657.10" y="275" width="0.55" height="6" fill="#6a4220" opacity="0.75"/>
<rect x="658.85" y="275" width="0.55" height="6" fill="#6a4220" opacity="0.75"/>
<rect x="660.60" y="275" width="0.55" height="6" fill="#6a4220" opacity="0.75"/>
<rect x="662.35" y="275" width="0.55" height="6" fill="#6a4220" opacity="0.75"/>
<rect x="644.3" y="288.7" width="5.4" height="2.8" fill="#86d35a"/>
<rect x="662.6" y="288.7" width="5.4" height="2.8" fill="#efcf4a"/>
<rect x="670.4" y="247.9" width="24.5" height="19" fill="#141414"/>
<rect x="679.1999999999999" y="246.1" width="6.899999999999999" height="3" fill="#141414"/>
<rect x="675.4" y="248.9" width="14.5" height="17" fill="#232323"/>
<rect x="676.60" y="258.70" width="0.55" height="6" fill="#6a4220" opacity="0.75"/>
<rect x="678.35" y="258.70" width="0.55" height="6" fill="#6a4220" opacity="0.75"/>
<rect x="680.10" y="258.70" width="0.55" height="6" fill="#6a4220" opacity="0.75"/>
<rect x="681.85" y="258.70" width="0.55" height="6" fill="#6a4220" opacity="0.75"/>
<rect x="683.60" y="258.70" width="0.55" height="6" fill="#6a4220" opacity="0.75"/>
<rect x="685.35" y="258.70" width="0.55" height="6" fill="#6a4220" opacity="0.75"/>
<rect x="687.10" y="258.70" width="0.55" height="6" fill="#6a4220" opacity="0.75"/>
<rect x="688.85" y="258.70" width="0.55" height="6" fill="#6a4220" opacity="0.75"/>
<rect x="670.8" y="248.4" width="5.4" height="2.8" fill="#86d35a"/>
<rect x="689.1" y="248.4" width="5.4" height="2.8" fill="#efcf4a"/>
<rect x="670.4" y="273" width="24.5" height="19" fill="#141414"/>
<rect x="679.1999999999999" y="290.8" width="6.899999999999999" height="3" fill="#141414"/>
<rect x="675.4" y="274" width="14.5" height="17" fill="#232323"/>
<rect x="676.60" y="275" width="0.55" height="6" fill="#6a4220" opacity="0.75"/>
<rect x="678.35" y="275" width="0.55" height="6" fill="#6a4220" opacity="0.75"/>
<rect x="680.10" y="275" width="0.55" height="6" fill="#6a4220" opacity="0.75"/>
<rect x="681.85" y="275" width="0.55" height="6" fill="#6a4220" opacity="0.75"/>
<rect x="683.60" y="275" width="0.55" height="6" fill="#6a4220" opacity="0.75"/>
<rect x="685.35" y="275" width="0.55" height="6" fill="#6a4220" opacity="0.75"/>
<rect x="687.10" y="275" width="0.55" height="6" fill="#6a4220" opacity="0.75"/>
<rect x="688.85" y="275" width="0.55" height="6" fill="#6a4220" opacity="0.75"/>
<rect x="670.8" y="288.7" width="5.4" height="2.8" fill="#86d35a"/>
<rect x="689.1" y="288.7" width="5.4" height="2.8" fill="#efcf4a"/>
<rect x="696.9" y="247.9" width="24.5" height="19" fill="#141414"/>
<rect x="705.6999999999999" y="246.1" width="6.899999999999999" height="3" fill="#141414"/>
<rect x="701.9" y="248.9" width="14.5" height="17" fill="#232323"/>
<rect x="703.10" y="258.70" width="0.55" height="6" fill="#6a4220" opacity="0.75"/>
<rect x="704.85" y="258.70" width="0.55" height="6" fill="#6a4220" opacity="0.75"/>
<rect x="706.60" y="258.70" width="0.55" height="6" fill="#6a4220" opacity="0.75"/>
<rect x="708.35" y="258.70" width="0.55" height="6" fill="#6a4220" opacity="0.75"/>
<rect x="710.10" y="258.70" width="0.55" height="6" fill="#6a4220" opacity="0.75"/>
<rect x="711.85" y="258.70" width="0.55" height="6" fill="#6a4220" opacity="0.75"/>
<rect x="713.60" y="258.70" width="0.55" height="6" fill="#6a4220" opacity="0.75"/>
<rect x="715.35" y="258.70" width="0.55" height="6" fill="#6a4220" opacity="0.75"/>
<rect x="697.3" y="248.4" width="5.4" height="2.8" fill="#86d35a"/>
<rect x="715.6" y="248.4" width="5.4" height="2.8" fill="#efcf4a"/>
<rect x="696.9" y="273" width="24.5" height="19" fill="#141414"/>
<rect x="705.6999999999999" y="290.8" width="6.899999999999999" height="3" fill="#141414"/>
<rect x="701.9" y="274" width="14.5" height="17" fill="#232323"/>
<rect x="703.10" y="275" width="0.55" height="6" fill="#6a4220" opacity="0.75"/>
<rect x="704.85" y="275" width="0.55" height="6" fill="#6a4220" opacity="0.75"/>
<rect x="706.60" y="275" width="0.55" height="6" fill="#6a4220" opacity="0.75"/>
<rect x="708.35" y="275" width="0.55" height="6" fill="#6a4220" opacity="0.75"/>
<rect x="710.10" y="275" width="0.55" height="6" fill="#6a4220" opacity="0.75"/>
<rect x="711.85" y="275" width="0.55" height="6" fill="#6a4220" opacity="0.75"/>
<rect x="713.60" y="275" width="0.55" height="6" fill="#6a4220" opacity="0.75"/>
<rect x="715.35" y="275" width="0.55" height="6" fill="#6a4220" opacity="0.75"/>
<rect x="697.3" y="288.7" width="5.4" height="2.8" fill="#86d35a"/>
<rect x="715.6" y="288.7" width="5.4" height="2.8" fill="#efcf4a"/>
<rect x="732.3" y="244.6" width="59.3" height="49.2" fill="url(#silver)" stroke="#4a4a4a" stroke-width="1"/>
<rect x="735.8" y="268.6" width="52.3" height="2.2" fill="#ffffff" stroke="#bdbdbd" stroke-width="0.4"/>
<rect x="737.5" y="248" width="23.8" height="16.3" fill="#141414"/>
<rect x="746.3" y="246.2" width="6.199999999999999" height="3" fill="#141414"/>
<rect x="742.5" y="249" width="13.8" height="14.3" fill="#232323"/>
<rect x="743.70" y="256.10" width="0.55" height="6" fill="#6a4220" opacity="0.75"/>
<rect x="745.45" y="256.10" width="0.55" height="6" fill="#6a4220" opacity="0.75"/>
<rect x="747.20" y="256.10" width="0.55" height="6" fill="#6a4220" opacity="0.75"/>
<rect x="748.95" y="256.10" width="0.55" height="6" fill="#6a4220" opacity="0.75"/>
<rect x="750.70" y="256.10" width="0.55" height="6" fill="#6a4220" opacity="0.75"/>
<rect x="752.45" y="256.10" width="0.55" height="6" fill="#6a4220" opacity="0.75"/>
<rect x="754.20" y="256.10" width="0.55" height="6" fill="#6a4220" opacity="0.75"/>
<rect x="755.95" y="256.10" width="0.55" height="6" fill="#6a4220" opacity="0.75"/>
<rect x="737.9" y="248.5" width="5.4" height="2.8" fill="#86d35a"/>
<rect x="755.5" y="248.5" width="5.4" height="2.8" fill="#efcf4a"/>
<rect x="737.5" y="274.4" width="23.8" height="16.8" fill="#141414"/>
<rect x="746.3" y="290.0" width="6.199999999999999" height="3" fill="#141414"/>
<rect x="742.5" y="275.4" width="13.8" height="14.8" fill="#232323"/>
<rect x="743.70" y="276.4" width="0.55" height="6" fill="#6a4220" opacity="0.75"/>
<rect x="745.45" y="276.4" width="0.55" height="6" fill="#6a4220" opacity="0.75"/>
<rect x="747.20" y="276.4" width="0.55" height="6" fill="#6a4220" opacity="0.75"/>
<rect x="748.95" y="276.4" width="0.55" height="6" fill="#6a4220" opacity="0.75"/>
<rect x="750.70" y="276.4" width="0.55" height="6" fill="#6a4220" opacity="0.75"/>
<rect x="752.45" y="276.4" width="0.55" height="6" fill="#6a4220" opacity="0.75"/>
<rect x="754.20" y="276.4" width="0.55" height="6" fill="#6a4220" opacity="0.75"/>
<rect x="755.95" y="276.4" width="0.55" height="6" fill="#6a4220" opacity="0.75"/>
<rect x="737.9" y="287.9" width="5.4" height="2.8" fill="#86d35a"/>
<rect x="755.5" y="287.9" width="5.4" height="2.8" fill="#efcf4a"/>
<rect x="764.0" y="248" width="23.8" height="16.3" fill="#141414"/>
<rect x="772.8" y="246.2" width="6.199999999999999" height="3" fill="#141414"/>
<rect x="769.0" y="249" width="13.8" height="14.3" fill="#232323"/>
<rect x="770.20" y="256.10" width="0.55" height="6" fill="#6a4220" opacity="0.75"/>
<rect x="771.95" y="256.10" width="0.55" height="6" fill="#6a4220" opacity="0.75"/>
<rect x="773.70" y="256.10" width="0.55" height="6" fill="#6a4220" opacity="0.75"/>
<rect x="775.45" y="256.10" width="0.55" height="6" fill="#6a4220" opacity="0.75"/>
<rect x="777.20" y="256.10" width="0.55" height="6" fill="#6a4220" opacity="0.75"/>
<rect x="778.95" y="256.10" width="0.55" height="6" fill="#6a4220" opacity="0.75"/>
<rect x="780.70" y="256.10" width="0.55" height="6" fill="#6a4220" opacity="0.75"/>
<rect x="782.45" y="256.10" width="0.55" height="6" fill="#6a4220" opacity="0.75"/>
<rect x="764.4" y="248.5" width="5.4" height="2.8" fill="#86d35a"/>
<rect x="782.0" y="248.5" width="5.4" height="2.8" fill="#efcf4a"/>
<rect x="764.0" y="274.4" width="23.8" height="16.8" fill="#141414"/>
<rect x="772.8" y="290.0" width="6.199999999999999" height="3" fill="#141414"/>
<rect x="769.0" y="275.4" width="13.8" height="14.8" fill="#232323"/>
<rect x="770.20" y="276.4" width="0.55" height="6" fill="#6a4220" opacity="0.75"/>
<rect x="771.95" y="276.4" width="0.55" height="6" fill="#6a4220" opacity="0.75"/>
<rect x="773.70" y="276.4" width="0.55" height="6" fill="#6a4220" opacity="0.75"/>
<rect x="775.45" y="276.4" width="0.55" height="6" fill="#6a4220" opacity="0.75"/>
<rect x="777.20" y="276.4" width="0.55" height="6" fill="#6a4220" opacity="0.75"/>
<rect x="778.95" y="276.4" width="0.55" height="6" fill="#6a4220" opacity="0.75"/>
<rect x="780.70" y="276.4" width="0.55" height="6" fill="#6a4220" opacity="0.75"/>
<rect x="782.45" y="276.4" width="0.55" height="6" fill="#6a4220" opacity="0.75"/>
<rect x="764.4" y="287.9" width="5.4" height="2.8" fill="#86d35a"/>
<rect x="782.0" y="287.9" width="5.4" height="2.8" fill="#efcf4a"/>
<rect x="53" y="254" width="81" height="20.2" fill="url(#lcd)"/>
<path d="M53 254 H134 V262 Q95 258 53 266 Z" fill="#ffffff" opacity="0.10"/>
<svg x="53" y="254" width="81" height="20.2" overflow="hidden"><ellipse cx="81" cy="2" rx="16" ry="12" fill="url(#lcdglow)"/></svg>
<rect x="53" y="254" width="81" height="0.8" fill="#2a70c0"/>
<rect x="57.5" y="289.8" width="13" height="7" rx="0.8" fill="#9a9a9a" opacity="0.5"/>
<rect x="57.2" y="289.2" width="13" height="6.8" rx="0.8" fill="#f7f7f5" stroke="#a8a8a8" stroke-width="0.6"/>
<rect x="76.8" y="289.8" width="13" height="7" rx="0.8" fill="#9a9a9a" opacity="0.5"/>
<rect x="76.5" y="289.2" width="13" height="6.8" rx="0.8" fill="#f7f7f5" stroke="#a8a8a8" stroke-width="0.6"/>
<rect x="96.6" y="289.8" width="13" height="7" rx="0.8" fill="#9a9a9a" opacity="0.5"/>
<rect x="96.3" y="289.2" width="13" height="6.8" rx="0.8" fill="#f7f7f5" stroke="#a8a8a8" stroke-width="0.6"/>
<path d="M101.3 294.3 h3 l-1.5 -1.8 z" fill="#333"/>
<rect x="116.5" y="289.8" width="13" height="7" rx="0.8" fill="#9a9a9a" opacity="0.5"/>
<rect x="116.2" y="289.2" width="13" height="6.8" rx="0.8" fill="#f7f7f5" stroke="#a8a8a8" stroke-width="0.6"/>
<path d="M121.2 291.6 h3 l-1.5 1.8 z" fill="#333"/>
<circle cx="164.9" cy="243.5" r="1.5" fill="#1f242c"/>
<circle cx="164.9" cy="251.9" r="2.2" fill="#2f8f22"/>
<ellipse cx="164.9" cy="251.4" rx="1.2" ry="0.8" fill="#ffffff" opacity="0.45"/>
<circle cx="154.8" cy="252.3" r="1.6" fill="none" stroke="#555" stroke-width="0.6"/>
<circle cx="164.9" cy="258.8" r="2.2" fill="#2f8f22"/>
<ellipse cx="164.9" cy="258.3" rx="1.2" ry="0.8" fill="#ffffff" opacity="0.45"/>
<circle cx="154.8" cy="259.2" r="1.6" fill="none" stroke="#555" stroke-width="0.6"/>
<circle cx="164.9" cy="265.8" r="2.2" fill="#2a7fd0"/>
<ellipse cx="164.9" cy="265.3" rx="1.2" ry="0.8" fill="#ffffff" opacity="0.45"/>
<rect x="157.6" y="264.40000000000003" width="3.8" height="3.2" fill="none" stroke="#555" stroke-width="0.6"/>
<circle cx="164.9" cy="272.2" r="2.2" fill="#2f8f22"/>
<ellipse cx="164.9" cy="271.7" rx="1.2" ry="0.8" fill="#ffffff" opacity="0.45"/>
<circle cx="164.9" cy="278.7" r="2.2" fill="#2f8f22"/>
<ellipse cx="164.9" cy="278.2" rx="1.2" ry="0.8" fill="#ffffff" opacity="0.45"/>
<path d="M156 291.8 Q156 291.2 156.8 291.2 H170.6 Q171.4 291.2 171.4 291.8 V294.3 Q171.4 296.6 169 296.8 H158.4 Q156 296.6 156 294.3 Z" fill="#d8d8d8" stroke="#2a2a2a" stroke-width="1.4"/>
<rect x="158.8" y="293.2" width="9.8" height="1.2" fill="#333"/>
<rect x="176.3" y="238.1" width="37.1" height="59.8" fill="url(#silver2)" stroke="#6a6a6a" stroke-width="0.7"/>
<rect x="177.5" y="239.3" width="34.7" height="57.4" fill="none" stroke="#f0f0f0" stroke-width="0.6"/>
<path d="M182.1 245.5 H187.8 V240.9 H201.7 V245.5 H207.2 V259.7 H182.1 Z" fill="#151515"/>
<rect x="186" y="246" width="17" height="13" fill="#222"/>
<rect x="186.5" y="253" width="0.5" height="5.5" fill="#8a5a2a" opacity="0.8"/>
<rect x="188.6" y="253" width="0.5" height="5.5" fill="#8a5a2a" opacity="0.8"/>
<rect x="190.7" y="253" width="0.5" height="5.5" fill="#8a5a2a" opacity="0.8"/>
<rect x="192.8" y="253" width="0.5" height="5.5" fill="#8a5a2a" opacity="0.8"/>
<rect x="194.9" y="253" width="0.5" height="5.5" fill="#8a5a2a" opacity="0.8"/>
<rect x="197.0" y="253" width="0.5" height="5.5" fill="#8a5a2a" opacity="0.8"/>
<rect x="199.1" y="253" width="0.5" height="5.5" fill="#8a5a2a" opacity="0.8"/>
<rect x="201.2" y="253" width="0.5" height="5.5" fill="#8a5a2a" opacity="0.8"/>
<rect x="182" y="268.4" width="25.8" height="10.5" rx="0.6" fill="#141414"/>
<rect x="183.8" y="270.4" width="22.2" height="2.4" fill="#2f6fd6"/>
<rect x="184" y="274.7" width="22" height="0.7" fill="#555" opacity="0.8"/>
<rect x="182" y="284.9" width="25.8" height="10.5" rx="0.6" fill="#141414"/>
<rect x="183.8" y="286.9" width="22.2" height="2.4" fill="#2f6fd6"/>
<rect x="184" y="291.2" width="22" height="0.7" fill="#555" opacity="0.8"/>
<rect x="236.5" y="237.2" width="11.5" height="4.8" fill="#dfe3e6"/>
<rect x="241.6" y="237.6" width="5.6" height="4" fill="#f2f5f7"/>
<rect x="238.3" y="243.4" width="9.4" height="4.4" fill="#dfe3e6"/>
<rect x="217.9" y="270.2" width="32" height="26.8" fill="#ffffff" stroke="#1e1e1e" stroke-width="0.9"/>
<rect x="219.4" y="271.6" width="29" height="23.6" fill="none" stroke="#c8c8c8" stroke-width="1.4"/>
<path d="M221.9 277 H229.6 V271.8 H238.8 V277 H246.8 V292.5 H221.9 Z" fill="#121212"/>
<rect x="227.5" y="278" width="13" height="13.5" fill="#222"/>
<rect x="226.60" y="285.5" width="0.5" height="6" fill="#5a3818" opacity="0.8"/>
<rect x="228.55" y="285.5" width="0.5" height="6" fill="#5a3818" opacity="0.8"/>
<rect x="230.50" y="285.5" width="0.5" height="6" fill="#5a3818" opacity="0.8"/>
<rect x="232.45" y="285.5" width="0.5" height="6" fill="#5a3818" opacity="0.8"/>
<rect x="234.40" y="285.5" width="0.5" height="6" fill="#5a3818" opacity="0.8"/>
<rect x="236.35" y="285.5" width="0.5" height="6" fill="#5a3818" opacity="0.8"/>
<rect x="238.30" y="285.5" width="0.5" height="6" fill="#5a3818" opacity="0.8"/>
<rect x="240.25" y="285.5" width="0.5" height="6" fill="#5a3818" opacity="0.8"/>
<rect x="221.6" y="273.8" width="6" height="2.6" fill="#f4f4f4" stroke="#999" stroke-width="0.3"/>
<rect x="240.4" y="273.8" width="6" height="2.6" fill="#86d35a"/>
<rect x="31.8" y="324.9" width="9.2" height="19.3" fill="#25292c"/>
<rect x="31.8" y="344.2" width="9.2" height="22.1" fill="#7f8c95"/>
<rect x="68.9" y="320.1" width="57.1" height="49.6" fill="#070707" stroke="#6a6a6a" stroke-width="0.8"/>
<rect x="68.9" y="320.1" width="57.1" height="1.2" fill="#9a9a9a"/>
<rect x="68.9" y="368.70000000000005" width="57.1" height="1" fill="#7a7a7a"/>
<rect x="70.4" y="323.3" width="25.55" height="4.8" fill="#181c21"/>
<rect x="78.89" y="322.1" width="8.56" height="3" fill="#050505"/>
<path d="M72.40 339.6 V330.40000000000003 H93.95 V339.6" fill="#1b2128" stroke="#3e4855" stroke-width="0.9"/>
<rect x="75.40" y="332.1" width="0.9" height="7" fill="#323a44"/>
<rect x="79.00" y="332.1" width="0.9" height="7" fill="#323a44"/>
<rect x="82.60" y="332.1" width="0.9" height="7" fill="#323a44"/>
<rect x="86.20" y="332.1" width="0.9" height="7" fill="#323a44"/>
<rect x="89.80" y="332.1" width="0.9" height="7" fill="#323a44"/>
<path d="M72.40 351.1 V359.20000000000005 H93.95 V351.1" fill="#1b2128" stroke="#3e4855" stroke-width="0.9"/>
<rect x="75.40" y="352.1" width="0.9" height="6.5" fill="#323a44"/>
<rect x="79.00" y="352.1" width="0.9" height="6.5" fill="#323a44"/>
<rect x="82.60" y="352.1" width="0.9" height="6.5" fill="#323a44"/>
<rect x="86.20" y="352.1" width="0.9" height="6.5" fill="#323a44"/>
<rect x="89.80" y="352.1" width="0.9" height="6.5" fill="#323a44"/>
<rect x="70.4" y="361.70000000000005" width="25.55" height="4.8" fill="#181c21"/>
<rect x="78.89" y="364.70000000000005" width="8.56" height="3" fill="#050505"/>
<rect x="69.30000000000001" y="340.0" width="27.75" height="10.4" fill="url(#band)"/>
<rect x="79.70" y="338.1" width="9.80" height="1.7" rx="0.7" fill="#dedede"/>
<rect x="79.70" y="350.6" width="9.80" height="1.7" rx="0.7" fill="#d0d0d0"/>
<path d="M73.70 343.40 h4 l-2 3.8 z" fill="#4f9e2a"/>
<path d="M79.00 347.40 h4 l-2 -3.8 z" fill="#5fb43a"/>
<path d="M85.20 343.40 h4 l-2 3.8 z" fill="#2f7fc8"/>
<path d="M90.50 347.40 h4 l-2 -3.8 z" fill="#6ab4e6"/>
<rect x="98.95" y="323.3" width="25.55" height="4.8" fill="#181c21"/>
<rect x="107.44" y="322.1" width="8.56" height="3" fill="#050505"/>
<path d="M100.95 339.6 V330.40000000000003 H122.50 V339.6" fill="#1b2128" stroke="#3e4855" stroke-width="0.9"/>
<rect x="103.95" y="332.1" width="0.9" height="7" fill="#323a44"/>
<rect x="107.55" y="332.1" width="0.9" height="7" fill="#323a44"/>
<rect x="111.15" y="332.1" width="0.9" height="7" fill="#323a44"/>
<rect x="114.75" y="332.1" width="0.9" height="7" fill="#323a44"/>
<rect x="118.35" y="332.1" width="0.9" height="7" fill="#323a44"/>
<path d="M100.95 351.1 V359.20000000000005 H122.50 V351.1" fill="#1b2128" stroke="#3e4855" stroke-width="0.9"/>
<rect x="103.95" y="352.1" width="0.9" height="6.5" fill="#323a44"/>
<rect x="107.55" y="352.1" width="0.9" height="6.5" fill="#323a44"/>
<rect x="111.15" y="352.1" width="0.9" height="6.5" fill="#323a44"/>
<rect x="114.75" y="352.1" width="0.9" height="6.5" fill="#323a44"/>
<rect x="118.35" y="352.1" width="0.9" height="6.5" fill="#323a44"/>
<rect x="98.95" y="361.70000000000005" width="25.55" height="4.8" fill="#181c21"/>
<rect x="107.44" y="364.70000000000005" width="8.56" height="3" fill="#050505"/>
<rect x="97.85000000000001" y="340.0" width="27.75" height="10.4" fill="url(#band)"/>
<rect x="108.25" y="338.1" width="9.80" height="1.7" rx="0.7" fill="#dedede"/>
<rect x="108.25" y="350.6" width="9.80" height="1.7" rx="0.7" fill="#d0d0d0"/>
<path d="M102.25 343.40 h4 l-2 3.8 z" fill="#4f9e2a"/>
<path d="M107.55 347.40 h4 l-2 -3.8 z" fill="#5fb43a"/>
<path d="M113.75 343.40 h4 l-2 3.8 z" fill="#2f7fc8"/>
<path d="M119.05 347.40 h4 l-2 -3.8 z" fill="#6ab4e6"/>
<rect x="96.95" y="320.1" width="1" height="49.6" fill="#3a3a3a"/>
<rect x="96.45" y="341.6" width="2" height="7" fill="#111"/>
<rect x="131.0" y="320.1" width="57.1" height="49.6" fill="#070707" stroke="#6a6a6a" stroke-width="0.8"/>
<rect x="131.0" y="320.1" width="57.1" height="1.2" fill="#9a9a9a"/>
<rect x="131.0" y="368.70000000000005" width="57.1" height="1" fill="#7a7a7a"/>
<rect x="132.5" y="323.3" width="25.55" height="4.8" fill="#181c21"/>
<rect x="140.99" y="322.1" width="8.56" height="3" fill="#050505"/>
<path d="M134.50 339.6 V330.40000000000003 H156.05 V339.6" fill="#1b2128" stroke="#3e4855" stroke-width="0.9"/>
<rect x="137.50" y="332.1" width="0.9" height="7" fill="#323a44"/>
<rect x="141.10" y="332.1" width="0.9" height="7" fill="#323a44"/>
<rect x="144.70" y="332.1" width="0.9" height="7" fill="#323a44"/>
<rect x="148.30" y="332.1" width="0.9" height="7" fill="#323a44"/>
<rect x="151.90" y="332.1" width="0.9" height="7" fill="#323a44"/>
<path d="M134.50 351.1 V359.20000000000005 H156.05 V351.1" fill="#1b2128" stroke="#3e4855" stroke-width="0.9"/>
<rect x="137.50" y="352.1" width="0.9" height="6.5" fill="#323a44"/>
<rect x="141.10" y="352.1" width="0.9" height="6.5" fill="#323a44"/>
<rect x="144.70" y="352.1" width="0.9" height="6.5" fill="#323a44"/>
<rect x="148.30" y="352.1" width="0.9" height="6.5" fill="#323a44"/>
<rect x="151.90" y="352.1" width="0.9" height="6.5" fill="#323a44"/>
<rect x="132.5" y="361.70000000000005" width="25.55" height="4.8" fill="#181c21"/>
<rect x="140.99" y="364.70000000000005" width="8.56" height="3" fill="#050505"/>
<rect x="131.4" y="340.0" width="27.75" height="10.4" fill="url(#band)"/>
<rect x="141.80" y="338.1" width="9.80" height="1.7" rx="0.7" fill="#dedede"/>
<rect x="141.80" y="350.6" width="9.80" height="1.7" rx="0.7" fill="#d0d0d0"/>
<path d="M135.80 343.40 h4 l-2 3.8 z" fill="#4f9e2a"/>
<path d="M141.10 347.40 h4 l-2 -3.8 z" fill="#5fb43a"/>
<path d="M147.30 343.40 h4 l-2 3.8 z" fill="#2f7fc8"/>
<path d="M152.60 347.40 h4 l-2 -3.8 z" fill="#6ab4e6"/>
<rect x="161.05" y="323.3" width="25.55" height="4.8" fill="#181c21"/>
<rect x="169.54" y="322.1" width="8.56" height="3" fill="#050505"/>
<path d="M163.05 339.6 V330.40000000000003 H184.60 V339.6" fill="#1b2128" stroke="#3e4855" stroke-width="0.9"/>
<rect x="166.05" y="332.1" width="0.9" height="7" fill="#323a44"/>
<rect x="169.65" y="332.1" width="0.9" height="7" fill="#323a44"/>
<rect x="173.25" y="332.1" width="0.9" height="7" fill="#323a44"/>
<rect x="176.85" y="332.1" width="0.9" height="7" fill="#323a44"/>
<rect x="180.45" y="332.1" width="0.9" height="7" fill="#323a44"/>
<path d="M163.05 351.1 V359.20000000000005 H184.60 V351.1" fill="#1b2128" stroke="#3e4855" stroke-width="0.9"/>
<rect x="166.05" y="352.1" width="0.9" height="6.5" fill="#323a44"/>
<rect x="169.65" y="352.1" width="0.9" height="6.5" fill="#323a44"/>
<rect x="173.25" y="352.1" width="0.9" height="6.5" fill="#323a44"/>
<rect x="176.85" y="352.1" width="0.9" height="6.5" fill="#323a44"/>
<rect x="180.45" y="352.1" width="0.9" height="6.5" fill="#323a44"/>
<rect x="161.05" y="361.70000000000005" width="25.55" height="4.8" fill="#181c21"/>
<rect x="169.54" y="364.70000000000005" width="8.56" height="3" fill="#050505"/>
<rect x="159.95000000000002" y="340.0" width="27.75" height="10.4" fill="url(#band)"/>
<rect x="170.35" y="338.1" width="9.80" height="1.7" rx="0.7" fill="#dedede"/>
<rect x="170.35" y="350.6" width="9.80" height="1.7" rx="0.7" fill="#d0d0d0"/>
<path d="M164.35 343.40 h4 l-2 3.8 z" fill="#4f9e2a"/>
<path d="M169.65 347.40 h4 l-2 -3.8 z" fill="#5fb43a"/>
<path d="M175.85 343.40 h4 l-2 3.8 z" fill="#2f7fc8"/>
<path d="M181.15 347.40 h4 l-2 -3.8 z" fill="#6ab4e6"/>
<rect x="159.05" y="320.1" width="1" height="49.6" fill="#3a3a3a"/>
<rect x="158.55" y="341.6" width="2" height="7" fill="#111"/>
<rect x="193.0" y="320.1" width="57.1" height="49.6" fill="#070707" stroke="#6a6a6a" stroke-width="0.8"/>
<rect x="193.0" y="320.1" width="57.1" height="1.2" fill="#9a9a9a"/>
<rect x="193.0" y="368.70000000000005" width="57.1" height="1" fill="#7a7a7a"/>
<rect x="194.5" y="323.3" width="25.55" height="4.8" fill="#181c21"/>
<rect x="202.99" y="322.1" width="8.56" height="3" fill="#050505"/>
<path d="M196.50 339.6 V330.40000000000003 H218.05 V339.6" fill="#1b2128" stroke="#3e4855" stroke-width="0.9"/>
<rect x="199.50" y="332.1" width="0.9" height="7" fill="#323a44"/>
<rect x="203.10" y="332.1" width="0.9" height="7" fill="#323a44"/>
<rect x="206.70" y="332.1" width="0.9" height="7" fill="#323a44"/>
<rect x="210.30" y="332.1" width="0.9" height="7" fill="#323a44"/>
<rect x="213.90" y="332.1" width="0.9" height="7" fill="#323a44"/>
<path d="M196.50 351.1 V359.20000000000005 H218.05 V351.1" fill="#1b2128" stroke="#3e4855" stroke-width="0.9"/>
<rect x="199.50" y="352.1" width="0.9" height="6.5" fill="#323a44"/>
<rect x="203.10" y="352.1" width="0.9" height="6.5" fill="#323a44"/>
<rect x="206.70" y="352.1" width="0.9" height="6.5" fill="#323a44"/>
<rect x="210.30" y="352.1" width="0.9" height="6.5" fill="#323a44"/>
<rect x="213.90" y="352.1" width="0.9" height="6.5" fill="#323a44"/>
<rect x="194.5" y="361.70000000000005" width="25.55" height="4.8" fill="#181c21"/>
<rect x="202.99" y="364.70000000000005" width="8.56" height="3" fill="#050505"/>
<rect x="193.4" y="340.0" width="27.75" height="10.4" fill="url(#band)"/>
<rect x="203.80" y="338.1" width="9.80" height="1.7" rx="0.7" fill="#dedede"/>
<rect x="203.80" y="350.6" width="9.80" height="1.7" rx="0.7" fill="#d0d0d0"/>
<path d="M197.80 343.40 h4 l-2 3.8 z" fill="#4f9e2a"/>
<path d="M203.10 347.40 h4 l-2 -3.8 z" fill="#5fb43a"/>
<path d="M209.30 343.40 h4 l-2 3.8 z" fill="#2f7fc8"/>
<path d="M214.60 347.40 h4 l-2 -3.8 z" fill="#6ab4e6"/>
<rect x="223.05" y="323.3" width="25.55" height="4.8" fill="#181c21"/>
<rect x="231.54" y="322.1" width="8.56" height="3" fill="#050505"/>
<path d="M225.05 339.6 V330.40000000000003 H246.60 V339.6" fill="#1b2128" stroke="#3e4855" stroke-width="0.9"/>
<rect x="228.05" y="332.1" width="0.9" height="7" fill="#323a44"/>
<rect x="231.65" y="332.1" width="0.9" height="7" fill="#323a44"/>
<rect x="235.25" y="332.1" width="0.9" height="7" fill="#323a44"/>
<rect x="238.85" y="332.1" width="0.9" height="7" fill="#323a44"/>
<rect x="242.45" y="332.1" width="0.9" height="7" fill="#323a44"/>
<path d="M225.05 351.1 V359.20000000000005 H246.60 V351.1" fill="#1b2128" stroke="#3e4855" stroke-width="0.9"/>
<rect x="228.05" y="352.1" width="0.9" height="6.5" fill="#323a44"/>
<rect x="231.65" y="352.1" width="0.9" height="6.5" fill="#323a44"/>
<rect x="235.25" y="352.1" width="0.9" height="6.5" fill="#323a44"/>
<rect x="238.85" y="352.1" width="0.9" height="6.5" fill="#323a44"/>
<rect x="242.45" y="352.1" width="0.9" height="6.5" fill="#323a44"/>
<rect x="223.05" y="361.70000000000005" width="25.55" height="4.8" fill="#181c21"/>
<rect x="231.54" y="364.70000000000005" width="8.56" height="3" fill="#050505"/>
<rect x="221.95000000000002" y="340.0" width="27.75" height="10.4" fill="url(#band)"/>
<rect x="232.35" y="338.1" width="9.80" height="1.7" rx="0.7" fill="#dedede"/>
<rect x="232.35" y="350.6" width="9.80" height="1.7" rx="0.7" fill="#d0d0d0"/>
<path d="M226.35 343.40 h4 l-2 3.8 z" fill="#4f9e2a"/>
<path d="M231.65 347.40 h4 l-2 -3.8 z" fill="#5fb43a"/>
<path d="M237.85 343.40 h4 l-2 3.8 z" fill="#2f7fc8"/>
<path d="M243.15 347.40 h4 l-2 -3.8 z" fill="#6ab4e6"/>
<rect x="221.05" y="320.1" width="1" height="49.6" fill="#3a3a3a"/>
<rect x="220.55" y="341.6" width="2" height="7" fill="#111"/>
<path d="M68.9 371.5 V376.2 H250.1 V371.5" fill="none" stroke="#c0c4c7" stroke-width="0.7"/>
<rect x="256.5" y="321.1" width="39.2" height="49.4" fill="#0b0b0b" stroke="#5a5a5a" stroke-width="0.8"/>
<rect x="259.5" y="323.1" width="33.2" height="0.8" fill="#3a3f45"/>
<rect x="259.5" y="332.6" width="33.2" height="1.7" fill="#6a5e2c"/>
<rect x="259.5" y="334.6" width="33.2" height="0.8" fill="#2a2f35"/>
<rect x="258.5" y="339.3" width="35.2" height="11.7" fill="#d8d8d6"/>
<path d="M261.0 348.1 h4 l-2 -4.5 z" fill="#6cc040"/>
<path d="M287.2 343.6 h4 l-2 4.5 z" fill="#6cc040"/>
<rect x="267.0" y="342.1" width="3.8" height="2.3" rx="0.6" fill="#111"/>
<rect x="267.0" y="345.70000000000005" width="3.8" height="2.3" rx="0.6" fill="#111"/>
<rect x="271.8" y="342.1" width="3.8" height="2.3" rx="0.6" fill="#111"/>
<rect x="271.8" y="345.70000000000005" width="3.8" height="2.3" rx="0.6" fill="#111"/>
<rect x="276.6" y="342.1" width="3.8" height="2.3" rx="0.6" fill="#111"/>
<rect x="276.6" y="345.70000000000005" width="3.8" height="2.3" rx="0.6" fill="#111"/>
<rect x="281.4" y="342.1" width="3.8" height="2.3" rx="0.6" fill="#111"/>
<rect x="281.4" y="345.70000000000005" width="3.8" height="2.3" rx="0.6" fill="#111"/>
<rect x="259.5" y="354.1" width="33.2" height="0.8" fill="#3a3f45"/>
<rect x="259.5" y="363.3" width="33.2" height="1.7" fill="#6a5e2c"/>
<rect x="259.5" y="365.6" width="33.2" height="0.8" fill="#2a2f35"/>
<rect x="257" y="371.5" width="38.5" height="5" fill="none" stroke="#c4c8cb" stroke-width="0.6"/>
<rect x="304.1" y="321.6" width="59.8" height="48.9" fill="url(#silver)" stroke="#4a4a4a" stroke-width="1"/>
<rect x="308.70000000000005" y="324.4" width="24" height="18.8" fill="#151515"/>
<rect x="317.20000000000005" y="322.59999999999997" width="7" height="3" fill="#151515"/>
<rect x="313.70000000000005" y="325.4" width="14" height="16.8" fill="#242424"/>
<rect x="314.70" y="334.9" width="0.5" height="6" fill="#6a4220" opacity="0.7"/>
<rect x="316.40" y="334.9" width="0.5" height="6" fill="#6a4220" opacity="0.7"/>
<rect x="318.10" y="334.9" width="0.5" height="6" fill="#6a4220" opacity="0.7"/>
<rect x="319.80" y="334.9" width="0.5" height="6" fill="#6a4220" opacity="0.7"/>
<rect x="321.50" y="334.9" width="0.5" height="6" fill="#6a4220" opacity="0.7"/>
<rect x="323.20" y="334.9" width="0.5" height="6" fill="#6a4220" opacity="0.7"/>
<rect x="324.90" y="334.9" width="0.5" height="6" fill="#6a4220" opacity="0.7"/>
<rect x="326.60" y="334.9" width="0.5" height="6" fill="#6a4220" opacity="0.7"/>
<rect x="309.20000000000005" y="325.0" width="5" height="2.6" fill="#86d35a"/>
<rect x="327.20000000000005" y="325.0" width="5" height="2.6" fill="#ececec"/>
<rect x="308.70000000000005" y="349" width="24" height="18.8" fill="#151515"/>
<rect x="317.20000000000005" y="366.6" width="7" height="3" fill="#151515"/>
<rect x="313.70000000000005" y="350" width="14" height="16.8" fill="#242424"/>
<rect x="314.70" y="351" width="0.5" height="6" fill="#6a4220" opacity="0.7"/>
<rect x="316.40" y="351" width="0.5" height="6" fill="#6a4220" opacity="0.7"/>
<rect x="318.10" y="351" width="0.5" height="6" fill="#6a4220" opacity="0.7"/>
<rect x="319.80" y="351" width="0.5" height="6" fill="#6a4220" opacity="0.7"/>
<rect x="321.50" y="351" width="0.5" height="6" fill="#6a4220" opacity="0.7"/>
<rect x="323.20" y="351" width="0.5" height="6" fill="#6a4220" opacity="0.7"/>
<rect x="324.90" y="351" width="0.5" height="6" fill="#6a4220" opacity="0.7"/>
<rect x="326.60" y="351" width="0.5" height="6" fill="#6a4220" opacity="0.7"/>
<rect x="309.20000000000005" y="364.6" width="5" height="2.6" fill="#86d35a"/>
<rect x="327.20000000000005" y="364.6" width="5" height="2.6" fill="#ececec"/>
<rect x="335.1" y="324.4" width="24" height="18.8" fill="#151515"/>
<rect x="343.6" y="322.59999999999997" width="7" height="3" fill="#151515"/>
<rect x="340.1" y="325.4" width="14" height="16.8" fill="#242424"/>
<rect x="341.10" y="334.9" width="0.5" height="6" fill="#6a4220" opacity="0.7"/>
<rect x="342.80" y="334.9" width="0.5" height="6" fill="#6a4220" opacity="0.7"/>
<rect x="344.50" y="334.9" width="0.5" height="6" fill="#6a4220" opacity="0.7"/>
<rect x="346.20" y="334.9" width="0.5" height="6" fill="#6a4220" opacity="0.7"/>
<rect x="347.90" y="334.9" width="0.5" height="6" fill="#6a4220" opacity="0.7"/>
<rect x="349.60" y="334.9" width="0.5" height="6" fill="#6a4220" opacity="0.7"/>
<rect x="351.30" y="334.9" width="0.5" height="6" fill="#6a4220" opacity="0.7"/>
<rect x="353.00" y="334.9" width="0.5" height="6" fill="#6a4220" opacity="0.7"/>
<rect x="335.6" y="325.0" width="5" height="2.6" fill="#86d35a"/>
<rect x="353.6" y="325.0" width="5" height="2.6" fill="#ececec"/>
<rect x="335.1" y="349" width="24" height="18.8" fill="#151515"/>
<rect x="343.6" y="366.6" width="7" height="3" fill="#151515"/>
<rect x="340.1" y="350" width="14" height="16.8" fill="#242424"/>
<rect x="341.10" y="351" width="0.5" height="6" fill="#6a4220" opacity="0.7"/>
<rect x="342.80" y="351" width="0.5" height="6" fill="#6a4220" opacity="0.7"/>
<rect x="344.50" y="351" width="0.5" height="6" fill="#6a4220" opacity="0.7"/>
<rect x="346.20" y="351" width="0.5" height="6" fill="#6a4220" opacity="0.7"/>
<rect x="347.90" y="351" width="0.5" height="6" fill="#6a4220" opacity="0.7"/>
<rect x="349.60" y="351" width="0.5" height="6" fill="#6a4220" opacity="0.7"/>
<rect x="351.30" y="351" width="0.5" height="6" fill="#6a4220" opacity="0.7"/>
<rect x="353.00" y="351" width="0.5" height="6" fill="#6a4220" opacity="0.7"/>
<rect x="335.6" y="364.6" width="5" height="2.6" fill="#86d35a"/>
<rect x="353.6" y="364.6" width="5" height="2.6" fill="#ececec"/>
<rect x="372.1" y="321.6" width="59.8" height="48.9" fill="url(#silver)" stroke="#4a4a4a" stroke-width="1"/>
<rect x="376.70000000000005" y="324.4" width="24" height="18.8" fill="#151515"/>
<rect x="385.20000000000005" y="322.59999999999997" width="7" height="3" fill="#151515"/>
<rect x="381.70000000000005" y="325.4" width="14" height="16.8" fill="#242424"/>
<rect x="382.70" y="334.9" width="0.5" height="6" fill="#6a4220" opacity="0.7"/>
<rect x="384.40" y="334.9" width="0.5" height="6" fill="#6a4220" opacity="0.7"/>
<rect x="386.10" y="334.9" width="0.5" height="6" fill="#6a4220" opacity="0.7"/>
<rect x="387.80" y="334.9" width="0.5" height="6" fill="#6a4220" opacity="0.7"/>
<rect x="389.50" y="334.9" width="0.5" height="6" fill="#6a4220" opacity="0.7"/>
<rect x="391.20" y="334.9" width="0.5" height="6" fill="#6a4220" opacity="0.7"/>
<rect x="392.90" y="334.9" width="0.5" height="6" fill="#6a4220" opacity="0.7"/>
<rect x="394.60" y="334.9" width="0.5" height="6" fill="#6a4220" opacity="0.7"/>
<rect x="377.20000000000005" y="325.0" width="5" height="2.6" fill="#86d35a"/>
<rect x="395.20000000000005" y="325.0" width="5" height="2.6" fill="#ececec"/>
<rect x="376.70000000000005" y="349" width="24" height="18.8" fill="#151515"/>
<rect x="385.20000000000005" y="366.6" width="7" height="3" fill="#151515"/>
<rect x="381.70000000000005" y="350" width="14" height="16.8" fill="#242424"/>
<rect x="382.70" y="351" width="0.5" height="6" fill="#6a4220" opacity="0.7"/>
<rect x="384.40" y="351" width="0.5" height="6" fill="#6a4220" opacity="0.7"/>
<rect x="386.10" y="351" width="0.5" height="6" fill="#6a4220" opacity="0.7"/>
<rect x="387.80" y="351" width="0.5" height="6" fill="#6a4220" opacity="0.7"/>
<rect x="389.50" y="351" width="0.5" height="6" fill="#6a4220" opacity="0.7"/>
<rect x="391.20" y="351" width="0.5" height="6" fill="#6a4220" opacity="0.7"/>
<rect x="392.90" y="351" width="0.5" height="6" fill="#6a4220" opacity="0.7"/>
<rect x="394.60" y="351" width="0.5" height="6" fill="#6a4220" opacity="0.7"/>
<rect x="377.20000000000005" y="364.6" width="5" height="2.6" fill="#86d35a"/>
<rect x="395.20000000000005" y="364.6" width="5" height="2.6" fill="#ececec"/>
<rect x="403.1" y="324.4" width="24" height="18.8" fill="#151515"/>
<rect x="411.6" y="322.59999999999997" width="7" height="3" fill="#151515"/>
<rect x="408.1" y="325.4" width="14" height="16.8" fill="#242424"/>
<rect x="409.10" y="334.9" width="0.5" height="6" fill="#6a4220" opacity="0.7"/>
<rect x="410.80" y="334.9" width="0.5" height="6" fill="#6a4220" opacity="0.7"/>
<rect x="412.50" y="334.9" width="0.5" height="6" fill="#6a4220" opacity="0.7"/>
<rect x="414.20" y="334.9" width="0.5" height="6" fill="#6a4220" opacity="0.7"/>
<rect x="415.90" y="334.9" width="0.5" height="6" fill="#6a4220" opacity="0.7"/>
<rect x="417.60" y="334.9" width="0.5" height="6" fill="#6a4220" opacity="0.7"/>
<rect x="419.30" y="334.9" width="0.5" height="6" fill="#6a4220" opacity="0.7"/>
<rect x="421.00" y="334.9" width="0.5" height="6" fill="#6a4220" opacity="0.7"/>
<rect x="403.6" y="325.0" width="5" height="2.6" fill="#86d35a"/>
<rect x="421.6" y="325.0" width="5" height="2.6" fill="#ececec"/>
<rect x="403.1" y="349" width="24" height="18.8" fill="#151515"/>
<rect x="411.6" y="366.6" width="7" height="3" fill="#151515"/>
<rect x="408.1" y="350" width="14" height="16.8" fill="#242424"/>
<rect x="409.10" y="351" width="0.5" height="6" fill="#6a4220" opacity="0.7"/>
<rect x="410.80" y="351" width="0.5" height="6" fill="#6a4220" opacity="0.7"/>
<rect x="412.50" y="351" width="0.5" height="6" fill="#6a4220" opacity="0.7"/>
<rect x="414.20" y="351" width="0.5" height="6" fill="#6a4220" opacity="0.7"/>
<rect x="415.90" y="351" width="0.5" height="6" fill="#6a4220" opacity="0.7"/>
<rect x="417.60" y="351" width="0.5" height="6" fill="#6a4220" opacity="0.7"/>
<rect x="419.30" y="351" width="0.5" height="6" fill="#6a4220" opacity="0.7"/>
<rect x="421.00" y="351" width="0.5" height="6" fill="#6a4220" opacity="0.7"/>
<rect x="403.6" y="364.6" width="5" height="2.6" fill="#86d35a"/>
<rect x="421.6" y="364.6" width="5" height="2.6" fill="#ececec"/>
<path d="M304.1 372 V376.3 H431.9 V372" fill="none" stroke="#c4c8cb" stroke-width="0.6"/>
<rect x="447.6" y="313.4" width="182.4" height="67.1" rx="1" fill="#f7fafc" stroke="#444" stroke-width="1.3"/>
<rect x="446.95000000000005" y="311.0" width="1.3" height="3" fill="#383838"/>
<rect x="629.35" y="311.0" width="1.3" height="3" fill="#383838"/>
<rect x="458.90000000000003" y="313.4" width="1" height="2.2" fill="#383838"/>
<rect x="617.7" y="313.4" width="1" height="2.2" fill="#383838"/>
<rect x="458.90000000000003" y="378.3" width="1" height="2.2" fill="#383838"/>
<rect x="617.7" y="378.3" width="1" height="2.2" fill="#383838"/>
<circle cx="460.4" cy="326.29999999999995" r="8.3" fill="#d2d4d6" opacity="0.7"/>
<circle cx="460.4" cy="325.4" r="7.8" fill="url(#screwg)" stroke="#c4c4c4" stroke-width="0.5"/>
<path d="M456.18 320.72 A6.3 6.3 0 0 0 454.10 325.62" fill="none" stroke="#3a3a3a" stroke-width="2.4"/>
<path d="M466.39 323.45 A6.3 6.3 0 0 0 461.71 319.24" fill="none" stroke="#3a3a3a" stroke-width="2.4"/>
<line x1="455.0" y1="330.79999999999995" x2="465.79999999999995" y2="320.0" stroke="#f4f4f4" stroke-width="1.8"/>
<line x1="455.2" y1="331.5" x2="466.29999999999995" y2="320.4" stroke="#867e72" stroke-width="0.8"/>
<circle cx="454.2" cy="344.4" r="2.2" fill="#252b33"/>
<circle cx="461.4" cy="344.4" r="2.2" fill="#252b33"/>
<circle cx="454.2" cy="351" r="2.2" fill="#252b33"/>
<circle cx="461.4" cy="351" r="2.2" fill="#252b33"/>
<circle cx="454.2" cy="357.5" r="2.2" fill="#252b33"/>
<circle cx="461.4" cy="357.5" r="2.2" fill="#252b33"/>
<circle cx="454.2" cy="364" r="2.2" fill="#252b33"/>
<circle cx="461.4" cy="364" r="2.2" fill="#252b33"/>
<circle cx="616.4" cy="326.29999999999995" r="8.3" fill="#d2d4d6" opacity="0.7"/>
<circle cx="616.4" cy="325.4" r="7.8" fill="url(#screwg)" stroke="#c4c4c4" stroke-width="0.5"/>
<path d="M612.18 320.72 A6.3 6.3 0 0 0 610.10 325.62" fill="none" stroke="#3a3a3a" stroke-width="2.4"/>
<path d="M622.39 323.45 A6.3 6.3 0 0 0 617.71 319.24" fill="none" stroke="#3a3a3a" stroke-width="2.4"/>
<line x1="611.0" y1="330.79999999999995" x2="621.8" y2="320.0" stroke="#f4f4f4" stroke-width="1.8"/>
<line x1="611.1999999999999" y1="331.5" x2="622.3" y2="320.4" stroke="#867e72" stroke-width="0.8"/>
<circle cx="615.7" cy="344.4" r="2.2" fill="#252b33"/>
<circle cx="622.6" cy="344.4" r="2.2" fill="#252b33"/>
<circle cx="615.7" cy="351" r="2.2" fill="#252b33"/>
<circle cx="622.6" cy="351" r="2.2" fill="#252b33"/>
<circle cx="615.7" cy="357.5" r="2.2" fill="#252b33"/>
<circle cx="622.6" cy="357.5" r="2.2" fill="#252b33"/>
<circle cx="615.7" cy="364" r="2.2" fill="#252b33"/>
<circle cx="622.6" cy="364" r="2.2" fill="#252b33"/>
<rect x="476.2" y="320.5" width="56.3" height="49.4" fill="#070707" stroke="#6a6a6a" stroke-width="0.8"/>
<rect x="476.2" y="320.5" width="56.3" height="1.2" fill="#9a9a9a"/>
<rect x="476.2" y="368.9" width="56.3" height="1" fill="#7a7a7a"/>
<rect x="477.7" y="323.7" width="25.15" height="4.8" fill="#181c21"/>
<rect x="486.05" y="322.5" width="8.44" height="3" fill="#050505"/>
<path d="M479.70 340.0 V330.8 H500.85 V340.0" fill="#1b2128" stroke="#3e4855" stroke-width="0.9"/>
<rect x="482.70" y="332.5" width="0.9" height="7" fill="#323a44"/>
<rect x="486.30" y="332.5" width="0.9" height="7" fill="#323a44"/>
<rect x="489.90" y="332.5" width="0.9" height="7" fill="#323a44"/>
<rect x="493.50" y="332.5" width="0.9" height="7" fill="#323a44"/>
<rect x="497.10" y="332.5" width="0.9" height="7" fill="#323a44"/>
<path d="M479.70 351.5 V359.4 H500.85 V351.5" fill="#1b2128" stroke="#3e4855" stroke-width="0.9"/>
<rect x="482.70" y="352.5" width="0.9" height="6.5" fill="#323a44"/>
<rect x="486.30" y="352.5" width="0.9" height="6.5" fill="#323a44"/>
<rect x="489.90" y="352.5" width="0.9" height="6.5" fill="#323a44"/>
<rect x="493.50" y="352.5" width="0.9" height="6.5" fill="#323a44"/>
<rect x="497.10" y="352.5" width="0.9" height="6.5" fill="#323a44"/>
<rect x="477.7" y="361.9" width="25.15" height="4.8" fill="#181c21"/>
<rect x="486.05" y="364.9" width="8.44" height="3" fill="#050505"/>
<rect x="476.59999999999997" y="340.4" width="27.349999999999998" height="10.4" fill="url(#band)"/>
<rect x="487.00" y="338.5" width="9.66" height="1.7" rx="0.7" fill="#dedede"/>
<rect x="487.00" y="351.0" width="9.66" height="1.7" rx="0.7" fill="#d0d0d0"/>
<path d="M480.90 343.80 h4 l-2 3.8 z" fill="#4f9e2a"/>
<path d="M486.13 347.80 h4 l-2 -3.8 z" fill="#5fb43a"/>
<path d="M492.24 343.80 h4 l-2 3.8 z" fill="#2f7fc8"/>
<path d="M497.47 347.80 h4 l-2 -3.8 z" fill="#6ab4e6"/>
<rect x="505.84999999999997" y="323.7" width="25.15" height="4.8" fill="#181c21"/>
<rect x="514.20" y="322.5" width="8.44" height="3" fill="#050505"/>
<path d="M507.85 340.0 V330.8 H529.00 V340.0" fill="#1b2128" stroke="#3e4855" stroke-width="0.9"/>
<rect x="510.85" y="332.5" width="0.9" height="7" fill="#323a44"/>
<rect x="514.45" y="332.5" width="0.9" height="7" fill="#323a44"/>
<rect x="518.05" y="332.5" width="0.9" height="7" fill="#323a44"/>
<rect x="521.65" y="332.5" width="0.9" height="7" fill="#323a44"/>
<rect x="525.25" y="332.5" width="0.9" height="7" fill="#323a44"/>
<path d="M507.85 351.5 V359.4 H529.00 V351.5" fill="#1b2128" stroke="#3e4855" stroke-width="0.9"/>
<rect x="510.85" y="352.5" width="0.9" height="6.5" fill="#323a44"/>
<rect x="514.45" y="352.5" width="0.9" height="6.5" fill="#323a44"/>
<rect x="518.05" y="352.5" width="0.9" height="6.5" fill="#323a44"/>
<rect x="521.65" y="352.5" width="0.9" height="6.5" fill="#323a44"/>
<rect x="525.25" y="352.5" width="0.9" height="6.5" fill="#323a44"/>
<rect x="505.84999999999997" y="361.9" width="25.15" height="4.8" fill="#181c21"/>
<rect x="514.20" y="364.9" width="8.44" height="3" fill="#050505"/>
<rect x="504.74999999999994" y="340.4" width="27.349999999999998" height="10.4" fill="url(#band)"/>
<rect x="515.15" y="338.5" width="9.66" height="1.7" rx="0.7" fill="#dedede"/>
<rect x="515.15" y="351.0" width="9.66" height="1.7" rx="0.7" fill="#d0d0d0"/>
<path d="M509.05 343.80 h4 l-2 3.8 z" fill="#4f9e2a"/>
<path d="M514.28 347.80 h4 l-2 -3.8 z" fill="#5fb43a"/>
<path d="M520.39 343.80 h4 l-2 3.8 z" fill="#2f7fc8"/>
<path d="M525.62 347.80 h4 l-2 -3.8 z" fill="#6ab4e6"/>
<rect x="503.84999999999997" y="320.5" width="1" height="49.4" fill="#3a3a3a"/>
<rect x="503.34999999999997" y="342.0" width="2" height="7" fill="#111"/>
<rect x="544.0" y="320.5" width="56.4" height="49.4" fill="#070707" stroke="#6a6a6a" stroke-width="0.8"/>
<rect x="544.0" y="320.5" width="56.4" height="1.2" fill="#9a9a9a"/>
<rect x="544.0" y="368.9" width="56.4" height="1" fill="#7a7a7a"/>
<rect x="545.5" y="323.7" width="25.2" height="4.8" fill="#181c21"/>
<rect x="553.87" y="322.5" width="8.46" height="3" fill="#050505"/>
<path d="M547.50 340.0 V330.8 H568.70 V340.0" fill="#1b2128" stroke="#3e4855" stroke-width="0.9"/>
<rect x="550.50" y="332.5" width="0.9" height="7" fill="#323a44"/>
<rect x="554.10" y="332.5" width="0.9" height="7" fill="#323a44"/>
<rect x="557.70" y="332.5" width="0.9" height="7" fill="#323a44"/>
<rect x="561.30" y="332.5" width="0.9" height="7" fill="#323a44"/>
<rect x="564.90" y="332.5" width="0.9" height="7" fill="#323a44"/>
<path d="M547.50 351.5 V359.4 H568.70 V351.5" fill="#1b2128" stroke="#3e4855" stroke-width="0.9"/>
<rect x="550.50" y="352.5" width="0.9" height="6.5" fill="#323a44"/>
<rect x="554.10" y="352.5" width="0.9" height="6.5" fill="#323a44"/>
<rect x="557.70" y="352.5" width="0.9" height="6.5" fill="#323a44"/>
<rect x="561.30" y="352.5" width="0.9" height="6.5" fill="#323a44"/>
<rect x="564.90" y="352.5" width="0.9" height="6.5" fill="#323a44"/>
<rect x="545.5" y="361.9" width="25.2" height="4.8" fill="#181c21"/>
<rect x="553.87" y="364.9" width="8.46" height="3" fill="#050505"/>
<rect x="544.4" y="340.4" width="27.4" height="10.4" fill="url(#band)"/>
<rect x="554.80" y="338.5" width="9.68" height="1.7" rx="0.7" fill="#dedede"/>
<rect x="554.80" y="351.0" width="9.68" height="1.7" rx="0.7" fill="#d0d0d0"/>
<path d="M548.72 343.80 h4 l-2 3.8 z" fill="#4f9e2a"/>
<path d="M553.95 347.80 h4 l-2 -3.8 z" fill="#5fb43a"/>
<path d="M560.08 343.80 h4 l-2 3.8 z" fill="#2f7fc8"/>
<path d="M565.31 347.80 h4 l-2 -3.8 z" fill="#6ab4e6"/>
<rect x="573.7" y="323.7" width="25.2" height="4.8" fill="#181c21"/>
<rect x="582.07" y="322.5" width="8.46" height="3" fill="#050505"/>
<path d="M575.70 340.0 V330.8 H596.90 V340.0" fill="#1b2128" stroke="#3e4855" stroke-width="0.9"/>
<rect x="578.70" y="332.5" width="0.9" height="7" fill="#323a44"/>
<rect x="582.30" y="332.5" width="0.9" height="7" fill="#323a44"/>
<rect x="585.90" y="332.5" width="0.9" height="7" fill="#323a44"/>
<rect x="589.50" y="332.5" width="0.9" height="7" fill="#323a44"/>
<rect x="593.10" y="332.5" width="0.9" height="7" fill="#323a44"/>
<path d="M575.70 351.5 V359.4 H596.90 V351.5" fill="#1b2128" stroke="#3e4855" stroke-width="0.9"/>
<rect x="578.70" y="352.5" width="0.9" height="6.5" fill="#323a44"/>
<rect x="582.30" y="352.5" width="0.9" height="6.5" fill="#323a44"/>
<rect x="585.90" y="352.5" width="0.9" height="6.5" fill="#323a44"/>
<rect x="589.50" y="352.5" width="0.9" height="6.5" fill="#323a44"/>
<rect x="593.10" y="352.5" width="0.9" height="6.5" fill="#323a44"/>
<rect x="573.7" y="361.9" width="25.2" height="4.8" fill="#181c21"/>
<rect x="582.07" y="364.9" width="8.46" height="3" fill="#050505"/>
<rect x="572.6" y="340.4" width="27.4" height="10.4" fill="url(#band)"/>
<rect x="583.00" y="338.5" width="9.68" height="1.7" rx="0.7" fill="#dedede"/>
<rect x="583.00" y="351.0" width="9.68" height="1.7" rx="0.7" fill="#d0d0d0"/>
<path d="M576.92 343.80 h4 l-2 3.8 z" fill="#4f9e2a"/>
<path d="M582.15 347.80 h4 l-2 -3.8 z" fill="#5fb43a"/>
<path d="M588.28 343.80 h4 l-2 3.8 z" fill="#2f7fc8"/>
<path d="M593.51 347.80 h4 l-2 -3.8 z" fill="#6ab4e6"/>
<rect x="571.7" y="320.5" width="1" height="49.4" fill="#3a3a3a"/>
<rect x="571.2" y="342.0" width="2" height="7" fill="#111"/>
<rect x="630.0" y="313.4" width="182.7" height="67.1" rx="1" fill="#f7fafc" stroke="#444" stroke-width="1.3"/>
<rect x="629.35" y="311.0" width="1.3" height="3" fill="#383838"/>
<rect x="812.0500000000001" y="311.0" width="1.3" height="3" fill="#383838"/>
<rect x="641.3" y="313.4" width="1" height="2.2" fill="#383838"/>
<rect x="800.4000000000001" y="313.4" width="1" height="2.2" fill="#383838"/>
<rect x="641.3" y="378.3" width="1" height="2.2" fill="#383838"/>
<rect x="800.4000000000001" y="378.3" width="1" height="2.2" fill="#383838"/>
<circle cx="644.7" cy="326.29999999999995" r="8.3" fill="#d2d4d6" opacity="0.7"/>
<circle cx="644.7" cy="325.4" r="7.8" fill="url(#screwg)" stroke="#c4c4c4" stroke-width="0.5"/>
<path d="M640.48 320.72 A6.3 6.3 0 0 0 638.40 325.62" fill="none" stroke="#3a3a3a" stroke-width="2.4"/>
<path d="M650.69 323.45 A6.3 6.3 0 0 0 646.01 319.24" fill="none" stroke="#3a3a3a" stroke-width="2.4"/>
<line x1="639.3000000000001" y1="330.79999999999995" x2="650.1" y2="320.0" stroke="#f4f4f4" stroke-width="1.8"/>
<line x1="639.5" y1="331.5" x2="650.6" y2="320.4" stroke="#867e72" stroke-width="0.8"/>
<circle cx="637.3" cy="344.4" r="2.2" fill="#252b33"/>
<circle cx="644.2" cy="344.4" r="2.2" fill="#252b33"/>
<circle cx="637.3" cy="351" r="2.2" fill="#252b33"/>
<circle cx="644.2" cy="351" r="2.2" fill="#252b33"/>
<circle cx="637.3" cy="357.5" r="2.2" fill="#252b33"/>
<circle cx="644.2" cy="357.5" r="2.2" fill="#252b33"/>
<circle cx="637.3" cy="364" r="2.2" fill="#252b33"/>
<circle cx="644.2" cy="364" r="2.2" fill="#252b33"/>
<circle cx="800.2" cy="326.29999999999995" r="8.3" fill="#d2d4d6" opacity="0.7"/>
<circle cx="800.2" cy="325.4" r="7.8" fill="url(#screwg)" stroke="#c4c4c4" stroke-width="0.5"/>
<path d="M795.98 320.72 A6.3 6.3 0 0 0 793.90 325.62" fill="none" stroke="#3a3a3a" stroke-width="2.4"/>
<path d="M806.19 323.45 A6.3 6.3 0 0 0 801.51 319.24" fill="none" stroke="#3a3a3a" stroke-width="2.4"/>
<line x1="794.8000000000001" y1="330.79999999999995" x2="805.6" y2="320.0" stroke="#f4f4f4" stroke-width="1.8"/>
<line x1="795.0" y1="331.5" x2="806.1" y2="320.4" stroke="#867e72" stroke-width="0.8"/>
<circle cx="798.3" cy="344.4" r="2.2" fill="#252b33"/>
<circle cx="805.2" cy="344.4" r="2.2" fill="#252b33"/>
<circle cx="798.3" cy="351" r="2.2" fill="#252b33"/>
<circle cx="805.2" cy="351" r="2.2" fill="#252b33"/>
<circle cx="798.3" cy="357.5" r="2.2" fill="#252b33"/>
<circle cx="805.2" cy="357.5" r="2.2" fill="#252b33"/>
<circle cx="798.3" cy="364" r="2.2" fill="#252b33"/>
<circle cx="805.2" cy="364" r="2.2" fill="#252b33"/>
<rect x="678.6" y="350.3" width="38.9" height="19.7" fill="#080808" stroke="#7c7c7c" stroke-width="1"/>
<path d="M682.1 361 V353.6 H714.0 V361" fill="none" stroke="#3a4048" stroke-width="0.8"/>
<rect x="683.1" y="363" width="29.9" height="2" fill="#6e6234"/>
<rect x="726.0" y="350.3" width="38.9" height="19.7" fill="#080808" stroke="#7c7c7c" stroke-width="1"/>
<path d="M729.5 361 V353.6 H761.4 V361" fill="none" stroke="#3a4048" stroke-width="0.8"/>
<rect x="730.5" y="363" width="29.9" height="2" fill="#6e6234"/>
<circle cx="672.8" cy="349.4" r="2" fill="#2f8f22"/>
<ellipse cx="672.8" cy="348.9" rx="1.1" ry="0.7" fill="#fff" opacity="0.45"/>
<circle cx="672.8" cy="354.3" r="2" fill="#2a7fd0"/>
<ellipse cx="672.8" cy="353.8" rx="1.1" ry="0.7" fill="#fff" opacity="0.45"/>
<circle cx="672.8" cy="358.8" r="2" fill="#2f8f22"/>
<ellipse cx="672.8" cy="358.3" rx="1.1" ry="0.7" fill="#fff" opacity="0.45"/>
<circle cx="672.8" cy="364" r="2" fill="#2a7fd0"/>
<ellipse cx="672.8" cy="363.5" rx="1.1" ry="0.7" fill="#fff" opacity="0.45"/>
<path d="M277.3 300.8 H449.5 V298.5 M457.3 298.5 V300.8 H521.3" fill="none" stroke="#c4c8cb" stroke-width="0.6"/>
<rect x="275.3" y="305.2" width="1.1" height="1.8" fill="#333"/>
<rect x="275.3" y="236.8" width="1.1" height="1.8" fill="#333"/>
<rect x="525.3" y="305.2" width="1.1" height="1.8" fill="#333"/>
<rect x="525.3" y="236.8" width="1.1" height="1.8" fill="#333"/>
<path d="M552.3 300.8 H724.5 V298.5 M732.3 298.5 V300.8 H796.3" fill="none" stroke="#c4c8cb" stroke-width="0.6"/>
<rect x="550.3" y="305.2" width="1.1" height="1.8" fill="#333"/>
<rect x="550.3" y="236.8" width="1.1" height="1.8" fill="#333"/>
<rect x="800.3" y="305.2" width="1.1" height="1.8" fill="#333"/>
<rect x="800.3" y="236.8" width="1.1" height="1.8" fill="#333"/>
<text x="93.5" y="245.1" font-family="Liberation Sans" font-size="11.3" fill="#0b5cc6" text-anchor="middle" font-weight="bold" textLength="47" lengthAdjust="spacingAndGlyphs">SOPHOS</text>
<text x="92.6" y="263" font-family="Liberation Mono" font-size="7.8" fill="#ffffff" text-anchor="middle" font-weight="bold" textLength="22.8" lengthAdjust="spacingAndGlyphs">SOPHOS</text>
<text x="92.9" y="271.2" font-family="Liberation Mono" font-size="7.8" fill="#ffffff" text-anchor="middle" font-weight="bold" textLength="38.2" lengthAdjust="spacingAndGlyphs">Protection</text>
<text x="63.7" y="294.3" font-family="Liberation Sans" font-size="3.2" fill="#999" text-anchor="middle" font-weight="normal" >ENTER</text>
<text x="83.0" y="294.3" font-family="Liberation Sans" font-size="3.2" fill="#999" text-anchor="middle" font-weight="normal" >ESC</text>
<text x="165" y="239.4" font-family="Liberation Sans" font-size="4.6" fill="#555" text-anchor="middle" font-weight="normal" textLength="14" lengthAdjust="spacingAndGlyphs">RESET</text>
<text x="159.2" y="253.8" font-family="Liberation Sans" font-size="5.0" fill="#555" text-anchor="middle" font-weight="normal" >1</text>
<text x="159.2" y="260.7" font-family="Liberation Sans" font-size="5.0" fill="#555" text-anchor="middle" font-weight="normal" >2</text>
<text x="161.3" y="274.0" font-family="Liberation Sans" font-size="4.8" fill="#555" text-anchor="end" font-weight="normal" textLength="14.5" lengthAdjust="spacingAndGlyphs">BP 1/2</text>
<text x="161.3" y="280.5" font-family="Liberation Sans" font-size="4.8" fill="#555" text-anchor="end" font-weight="normal" textLength="14.5" lengthAdjust="spacingAndGlyphs">BP 3/4</text>
<text x="164.6" y="303" font-family="Liberation Sans" font-size="4.8" fill="#555" text-anchor="middle" font-weight="normal" textLength="9" lengthAdjust="spacingAndGlyphs">COM</text>
<text x="195.1" y="237" font-family="Liberation Sans" font-size="4.8" fill="#555" text-anchor="middle" font-weight="normal" textLength="9.4" lengthAdjust="spacingAndGlyphs">COM</text>
<text x="195.2" y="303.2" font-family="Liberation Sans" font-size="4.8" fill="#555" text-anchor="middle" font-weight="normal" textLength="16.2" lengthAdjust="spacingAndGlyphs">USB 3.0</text>
<text x="238.4" y="241.3" font-family="Liberation Sans" font-size="4.3" fill="#808080" text-anchor="middle" font-weight="normal" >C</text>
<text x="244.4" y="241.3" font-family="Liberation Sans" font-size="4.3" fill="#808080" text-anchor="middle" font-weight="normal" >D</text>
<text x="243" y="247.4" font-family="Liberation Sans" font-size="4.3" fill="#808080" text-anchor="middle" font-weight="normal" >A B</text>
<text x="234.4" y="302.4" font-family="Liberation Sans" font-size="4.8" fill="#555" text-anchor="middle" font-weight="normal" textLength="12.3" lengthAdjust="spacingAndGlyphs">MGMT</text>
<text x="0" y="0" font-family="Liberation Sans" font-size="7.8" fill="#f0f0f0" transform="translate(33.6 326.6) rotate(90)" textLength="16" lengthAdjust="spacingAndGlyphs">XGS</text>
<text x="0" y="0" font-family="Liberation Sans" font-size="7.8" fill="#e4e8eb" transform="translate(33.6 346) rotate(90)" textLength="19" lengthAdjust="spacingAndGlyphs">7500</text>
<text x="83.17500000000001" y="318.6" font-family="Liberation Sans" font-size="4.4" fill="#4a4a4a" text-anchor="middle" font-weight="normal" >F2</text>
<text x="111.72500000000001" y="318.6" font-family="Liberation Sans" font-size="4.4" fill="#4a4a4a" text-anchor="middle" font-weight="normal" >F4</text>
<text x="83.17500000000001" y="375.40000000000003" font-family="Liberation Sans" font-size="4.4" fill="#4a4a4a" text-anchor="middle" font-weight="normal" >F1</text>
<text x="111.72500000000001" y="375.40000000000003" font-family="Liberation Sans" font-size="4.4" fill="#4a4a4a" text-anchor="middle" font-weight="normal" >F3</text>
<text x="145.275" y="318.6" font-family="Liberation Sans" font-size="4.4" fill="#4a4a4a" text-anchor="middle" font-weight="normal" >F6</text>
<text x="173.825" y="318.6" font-family="Liberation Sans" font-size="4.4" fill="#4a4a4a" text-anchor="middle" font-weight="normal" >F8</text>
<text x="145.275" y="375.40000000000003" font-family="Liberation Sans" font-size="4.4" fill="#4a4a4a" text-anchor="middle" font-weight="normal" >F5</text>
<text x="173.825" y="375.40000000000003" font-family="Liberation Sans" font-size="4.4" fill="#4a4a4a" text-anchor="middle" font-weight="normal" >F7</text>
<text x="207.275" y="318.6" font-family="Liberation Sans" font-size="4.4" fill="#4a4a4a" text-anchor="middle" font-weight="normal" >F10</text>
<text x="235.825" y="318.6" font-family="Liberation Sans" font-size="4.4" fill="#4a4a4a" text-anchor="middle" font-weight="normal" >F12</text>
<text x="207.275" y="375.40000000000003" font-family="Liberation Sans" font-size="4.4" fill="#4a4a4a" text-anchor="middle" font-weight="normal" >F9</text>
<text x="235.825" y="375.40000000000003" font-family="Liberation Sans" font-size="4.4" fill="#4a4a4a" text-anchor="middle" font-weight="normal" >F11</text>
<text x="161" y="375.5" font-family="Liberation Sans" font-size="3.2" fill="#6a6a6a" text-anchor="middle" font-weight="normal" >SFP+</text>
<text x="276" y="319.6" font-family="Liberation Sans" font-size="4.4" fill="#4a4a4a" text-anchor="middle" font-weight="normal" >F14</text>
<text x="276" y="376.2" font-family="Liberation Sans" font-size="4.6" fill="#4a4a4a" text-anchor="middle" font-weight="normal" >F13</text>
<text x="289" y="375.8" font-family="Liberation Sans" font-size="3.2" fill="#6a6a6a" text-anchor="middle" font-weight="normal" >QSFP28</text>
<text x="320.70000000000005" y="319.8" font-family="Liberation Sans" font-size="4.4" fill="#4a4a4a" text-anchor="middle" font-weight="normal" >2/WAN</text>
<text x="347.1" y="319.8" font-family="Liberation Sans" font-size="4.4" fill="#4a4a4a" text-anchor="middle" font-weight="normal" >4</text>
<text x="320.70000000000005" y="375.6" font-family="Liberation Sans" font-size="4.4" fill="#4a4a4a" text-anchor="middle" font-weight="normal" >1/LAN</text>
<text x="347.1" y="375.6" font-family="Liberation Sans" font-size="4.4" fill="#4a4a4a" text-anchor="middle" font-weight="normal" >3/DMZ</text>
<text x="388.70000000000005" y="319.8" font-family="Liberation Sans" font-size="4.4" fill="#4a4a4a" text-anchor="middle" font-weight="normal" >6</text>
<text x="415.1" y="319.8" font-family="Liberation Sans" font-size="4.4" fill="#4a4a4a" text-anchor="middle" font-weight="normal" >8</text>
<text x="388.70000000000005" y="375.6" font-family="Liberation Sans" font-size="4.4" fill="#4a4a4a" text-anchor="middle" font-weight="normal" >5</text>
<text x="415.1" y="375.6" font-family="Liberation Sans" font-size="4.4" fill="#4a4a4a" text-anchor="middle" font-weight="normal" >7</text>
<text x="368.4" y="375.8" font-family="Liberation Sans" font-size="3.2" fill="#6a6a6a" text-anchor="middle" font-weight="normal" >10</text>
<text x="490.275" y="319.0" font-family="Liberation Sans" font-size="4.4" fill="#4a4a4a" text-anchor="middle" font-weight="normal" >2</text>
<text x="518.425" y="319.0" font-family="Liberation Sans" font-size="4.4" fill="#4a4a4a" text-anchor="middle" font-weight="normal" >4</text>
<text x="490.275" y="375.59999999999997" font-family="Liberation Sans" font-size="4.4" fill="#4a4a4a" text-anchor="middle" font-weight="normal" >1</text>
<text x="518.425" y="375.59999999999997" font-family="Liberation Sans" font-size="4.4" fill="#4a4a4a" text-anchor="middle" font-weight="normal" >3</text>
<text x="558.1" y="319.0" font-family="Liberation Sans" font-size="4.4" fill="#4a4a4a" text-anchor="middle" font-weight="normal" >6</text>
<text x="586.3" y="319.0" font-family="Liberation Sans" font-size="4.4" fill="#4a4a4a" text-anchor="middle" font-weight="normal" >8</text>
<text x="558.1" y="375.59999999999997" font-family="Liberation Sans" font-size="4.4" fill="#4a4a4a" text-anchor="middle" font-weight="normal" >5</text>
<text x="586.3" y="375.59999999999997" font-family="Liberation Sans" font-size="4.4" fill="#4a4a4a" text-anchor="middle" font-weight="normal" >7</text>
<text x="452" y="377" font-family="Liberation Sans" font-size="3.2" fill="#6a6a6a" text-anchor="start" font-weight="normal" >SFP</text>
<text x="698" y="375.3" font-family="Liberation Sans" font-size="4.4" fill="#4a4a4a" text-anchor="middle" font-weight="normal" >1</text>
<text x="745.4" y="375.3" font-family="Liberation Sans" font-size="4.4" fill="#4a4a4a" text-anchor="middle" font-weight="normal" >2</text>
<text x="669.8" y="350.9" font-family="Liberation Sans" font-size="4.3" fill="#555" text-anchor="end" font-weight="normal" textLength="11" lengthAdjust="spacingAndGlyphs">AT/LK</text>
<text x="669.8" y="355.8" font-family="Liberation Sans" font-size="4.3" fill="#555" text-anchor="end" font-weight="normal" textLength="11" lengthAdjust="spacingAndGlyphs">Speed</text>
<text x="669.8" y="360.3" font-family="Liberation Sans" font-size="4.3" fill="#555" text-anchor="end" font-weight="normal" textLength="11" lengthAdjust="spacingAndGlyphs">AT/LK</text>
<text x="669.8" y="365.5" font-family="Liberation Sans" font-size="4.3" fill="#555" text-anchor="end" font-weight="normal" textLength="11" lengthAdjust="spacingAndGlyphs">Speed</text>
<text x="672.8" y="346.3" font-family="Liberation Sans" font-size="4.0" fill="#4a4a4a" text-anchor="middle" font-weight="normal" >2</text>
<text x="672.8" y="370.3" font-family="Liberation Sans" font-size="4.0" fill="#4a4a4a" text-anchor="middle" font-weight="normal" >1</text>
<text x="637" y="377" font-family="Liberation Sans" font-size="3.2" fill="#6a6a6a" text-anchor="start" font-weight="normal" >QSFP</text>
<text x="301.65" y="243.6" font-family="Liberation Sans" font-size="5.0" fill="#555" text-anchor="middle" font-weight="normal" >2</text>
<text x="328.15" y="243.6" font-family="Liberation Sans" font-size="5.0" fill="#555" text-anchor="middle" font-weight="normal" >4</text>
<text x="354.65" y="243.6" font-family="Liberation Sans" font-size="5.0" fill="#555" text-anchor="middle" font-weight="normal" >6</text>
<text x="381.15" y="243.6" font-family="Liberation Sans" font-size="5.0" fill="#555" text-anchor="middle" font-weight="normal" >8</text>
<text x="407.65" y="243.6" font-family="Liberation Sans" font-size="5.0" fill="#555" text-anchor="middle" font-weight="normal" >10</text>
<text x="434.15" y="243.6" font-family="Liberation Sans" font-size="5.0" fill="#555" text-anchor="middle" font-weight="normal" >12</text>
<text x="301.65" y="299.6" font-family="Liberation Sans" font-size="5.0" fill="#555" text-anchor="middle" font-weight="normal" >1</text>
<text x="328.15" y="299.6" font-family="Liberation Sans" font-size="5.0" fill="#555" text-anchor="middle" font-weight="normal" >3</text>
<text x="354.65" y="299.6" font-family="Liberation Sans" font-size="5.0" fill="#555" text-anchor="middle" font-weight="normal" >5</text>
<text x="381.15" y="299.6" font-family="Liberation Sans" font-size="5.0" fill="#555" text-anchor="middle" font-weight="normal" >7</text>
<text x="407.65" y="299.6" font-family="Liberation Sans" font-size="5.0" fill="#555" text-anchor="middle" font-weight="normal" >9</text>
<text x="434.15" y="299.6" font-family="Liberation Sans" font-size="5.0" fill="#555" text-anchor="middle" font-weight="normal" >11</text>
<text x="474.4" y="243.6" font-family="Liberation Sans" font-size="5.0" fill="#555" text-anchor="middle" font-weight="normal" >14</text>
<text x="500.9" y="243.6" font-family="Liberation Sans" font-size="5.0" fill="#555" text-anchor="middle" font-weight="normal" >16</text>
<text x="474.4" y="299.6" font-family="Liberation Sans" font-size="5.0" fill="#555" text-anchor="middle" font-weight="normal" >13</text>
<text x="500.9" y="299.6" font-family="Liberation Sans" font-size="5.0" fill="#555" text-anchor="middle" font-weight="normal" >15</text>
<text x="267.8" y="301.5" font-family="Liberation Sans" font-size="3.6" fill="#666" text-anchor="start" font-weight="normal" >10G</text>
<text x="533.8" y="301.5" font-family="Liberation Sans" font-size="3.6" fill="#666" text-anchor="end" font-weight="normal" textLength="9.5" lengthAdjust="spacingAndGlyphs">2.5GE</text>
<text x="576.65" y="243.6" font-family="Liberation Sans" font-size="5.0" fill="#555" text-anchor="middle" font-weight="normal" >2</text>
<text x="603.15" y="243.6" font-family="Liberation Sans" font-size="5.0" fill="#555" text-anchor="middle" font-weight="normal" >4</text>
<text x="629.65" y="243.6" font-family="Liberation Sans" font-size="5.0" fill="#555" text-anchor="middle" font-weight="normal" >6</text>
<text x="656.15" y="243.6" font-family="Liberation Sans" font-size="5.0" fill="#555" text-anchor="middle" font-weight="normal" >8</text>
<text x="682.65" y="243.6" font-family="Liberation Sans" font-size="5.0" fill="#555" text-anchor="middle" font-weight="normal" >10</text>
<text x="709.15" y="243.6" font-family="Liberation Sans" font-size="5.0" fill="#555" text-anchor="middle" font-weight="normal" >12</text>
<text x="576.65" y="299.6" font-family="Liberation Sans" font-size="5.0" fill="#555" text-anchor="middle" font-weight="normal" >1</text>
<text x="603.15" y="299.6" font-family="Liberation Sans" font-size="5.0" fill="#555" text-anchor="middle" font-weight="normal" >3</text>
<text x="629.65" y="299.6" font-family="Liberation Sans" font-size="5.0" fill="#555" text-anchor="middle" font-weight="normal" >5</text>
<text x="656.15" y="299.6" font-family="Liberation Sans" font-size="5.0" fill="#555" text-anchor="middle" font-weight="normal" >7</text>
<text x="682.65" y="299.6" font-family="Liberation Sans" font-size="5.0" fill="#555" text-anchor="middle" font-weight="normal" >9</text>
<text x="709.15" y="299.6" font-family="Liberation Sans" font-size="5.0" fill="#555" text-anchor="middle" font-weight="normal" >11</text>
<text x="749.4" y="243.6" font-family="Liberation Sans" font-size="5.0" fill="#555" text-anchor="middle" font-weight="normal" >14</text>
<text x="775.9" y="243.6" font-family="Liberation Sans" font-size="5.0" fill="#555" text-anchor="middle" font-weight="normal" >16</text>
<text x="749.4" y="299.6" font-family="Liberation Sans" font-size="5.0" fill="#555" text-anchor="middle" font-weight="normal" >13</text>
<text x="775.9" y="299.6" font-family="Liberation Sans" font-size="5.0" fill="#555" text-anchor="middle" font-weight="normal" >15</text>
<text x="542.8" y="301.5" font-family="Liberation Sans" font-size="3.6" fill="#666" text-anchor="start" font-weight="normal" >10G</text>
<text x="808.8" y="301.5" font-family="Liberation Sans" font-size="3.6" fill="#666" text-anchor="end" font-weight="normal" textLength="9.5" lengthAdjust="spacingAndGlyphs">2.5GE</text>
<path d="M93 180 V249.5" fill="none" stroke="#74777c" stroke-width="2"/>
<path d="M201 180 V204.2" fill="none" stroke="#74777c" stroke-width="2"/>
<path d="M164 231.4 V204.2 H235 V265.8" fill="none" stroke="#74777c" stroke-width="2"/>
<path d="M538.8 180 V231" fill="none" stroke="#74777c" stroke-width="2"/>
<path d="M165 380.1 V427.8" fill="none" stroke="#74777c" stroke-width="2"/>
<path d="M277 380.2 V427.8" fill="none" stroke="#74777c" stroke-width="2"/>
<path d="M369 380 V427.8" fill="none" stroke="#74777c" stroke-width="2"/>
<path d="M629 386.5 V427.8" fill="none" stroke="#74777c" stroke-width="2"/>
</svg>
<div class="t" style="left:23.00px;top:101.55px;transform:scaleX(1.0022)">Multi-function</div>
<div class="t" style="left:36.23px;top:125.55px;transform:scaleX(0.9341)">LCD display</div>
<div class="t" style="left:20.59px;top:149.55px;transform:scaleX(0.9747)">and navigation</div>
<div class="t" style="left:200.81px;top:102.25px;transform:scaleX(0.9079)">COM: Micro USB,</div>
<div class="t" style="left:199.83px;top:126.25px;transform:scaleX(0.9684)">RJ45, 2 x USB 3.0,</div>
<div class="t" style="left:199.87px;top:150.25px;transform:scaleX(0.9372)">MGMT port</div>
<div class="t" style="left:540.41px;top:102.55px;transform:scaleX(0.9761)">2 x large expansion bay</div>
<div class="t" style="left:540.40px;top:126.55px;transform:scaleX(1.0043)">(shown with optional</div>
<div class="t" style="left:540.41px;top:150.55px;transform:scaleX(0.9712)">High-Density modules)</div>
<div class="t" style="left:43.86px;top:431.85px;transform:scaleX(0.9444)">F1–12 SFP+</div>
<div class="t" style="left:65.40px;top:455.85px;transform:scaleX(0.9772)">fiber/DAC</div>
<div class="t" style="left:112.20px;top:479.85px;transform:scaleX(1.0059)">ports</div>
<div class="t" style="left:232.61px;top:431.85px;transform:scaleX(0.9533)">F13–F14</div>
<div class="t" style="left:236.23px;top:455.85px;transform:scaleX(0.9253)">QSFP28</div>
<div class="t" style="left:199.99px;top:479.85px;transform:scaleX(0.9829)">fiber/DAC ports</div>
<div class="t" style="left:201.41px;top:503.85px;transform:scaleX(0.9768)">(max. 40 Gbps)</div>
<div class="t" style="left:369.61px;top:431.85px;transform:scaleX(0.9503)">LAN 1–8: 8 x GbE</div>
<div class="t" style="left:369.61px;top:455.85px;transform:scaleX(0.9743)">copper – fixed.</div>
<div class="t" style="left:368.63px;top:479.85px;transform:scaleX(0.9751)">Incl. 2 bypass pairs</div>
<div class="t" style="left:369.59px;top:503.85px;transform:scaleX(1.0524)">(ports 1/2 and 3/4)</div>
<div class="t" style="left:629.80px;top:431.85px;transform:scaleX(0.9785)">2 x expansion bay</div>
<div class="t" style="left:629.80px;top:455.85px;transform:scaleX(1.0158)">(shown with</div>
<div class="t" style="left:629.80px;top:479.85px;transform:scaleX(0.9863)">optional modules)</div>
</div></body></html>
